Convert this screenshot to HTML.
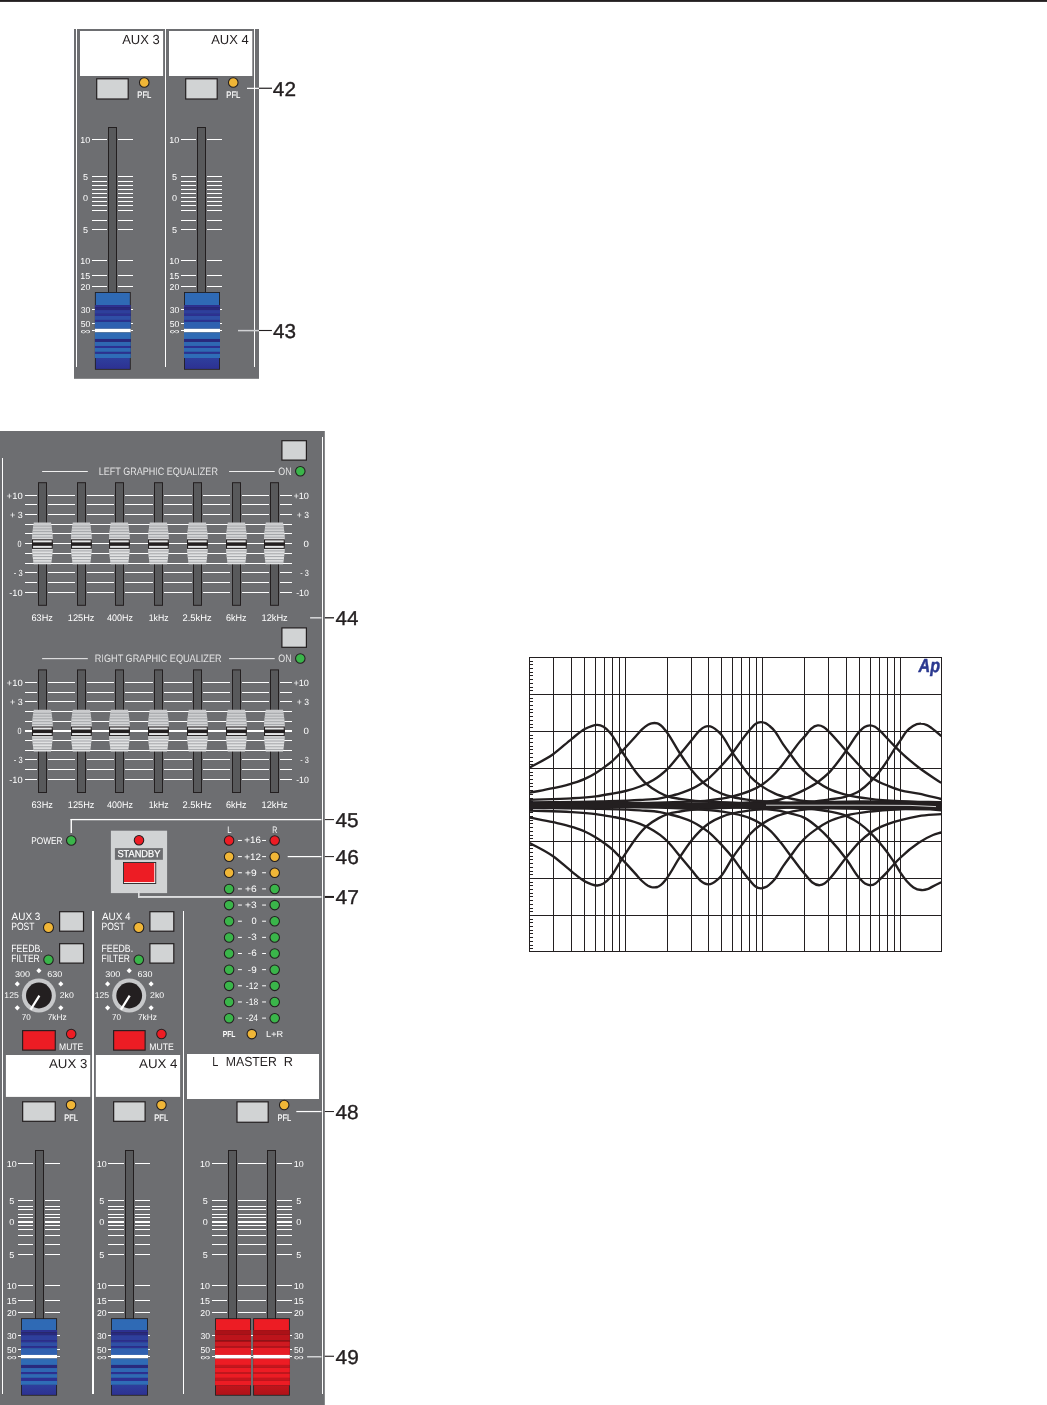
<!DOCTYPE html>
<html lang="en"><head><meta charset="utf-8"><title>Mixer panel</title>
<style>html,body{margin:0;padding:0;background:#fff;overflow:hidden}svg{display:block;will-change:transform}text{white-space:pre;text-rendering:geometricPrecision}</style>
</head><body>
<svg width="1047" height="1405" viewBox="0 0 1047 1405" font-family="'Liberation Sans', sans-serif">
<defs>
<linearGradient id="gblue" x1="0" y1="0" x2="0" y2="1"><stop offset="0" stop-color="#2e3f9d"/><stop offset="1" stop-color="#2d3192"/></linearGradient>
<linearGradient id="gred" x1="0" y1="0" x2="0" y2="1"><stop offset="0" stop-color="#c1151c"/><stop offset="1" stop-color="#b01218"/></linearGradient>
<linearGradient id="geq" x1="0" y1="0" x2="0" y2="1"><stop offset="0" stop-color="#c9cacc"/><stop offset="0.5" stop-color="#dcddde"/><stop offset="1" stop-color="#e4e5e6"/></linearGradient>
</defs>
<rect x="0.00" y="0.00" width="1047.00" height="1405.00" fill="#ffffff" />
<rect x="0.00" y="0.00" width="1047.00" height="1.90" fill="#231f20" />
<rect x="74.00" y="29.00" width="185.00" height="349.80" fill="#6d6e71" />
<rect x="76" y="29.00" width="1" height="337.80" fill="#ffffff" shape-rendering="crispEdges"/>
<rect x="165" y="29.00" width="1" height="337.80" fill="#ffffff" shape-rendering="crispEdges"/>
<rect x="254" y="29.00" width="1" height="337.80" fill="#ffffff" shape-rendering="crispEdges"/>
<rect x="80.00" y="31.00" width="83.10" height="45.00" fill="#ffffff" />
<rect x="169.00" y="31.00" width="83.30" height="45.00" fill="#ffffff" />
<text x="122.14" y="43.90" font-size="13.1" fill="#231f20" textLength="37.55" lengthAdjust="spacingAndGlyphs" >AUX 3</text>
<text x="211.14" y="43.90" font-size="13.1" fill="#231f20" textLength="37.56" lengthAdjust="spacingAndGlyphs" >AUX 4</text>
<rect x="96.70" y="78.80" width="31.50" height="20.20" fill="#d1d3d4" stroke="#231f20" stroke-width="1.2" />
<circle cx="144.25" cy="82.50" r="4.8" fill="#f0b637" stroke="#231f20" stroke-width="1.05"/>
<text x="137.28" y="98.05" font-size="9.5" fill="#ffffff" textLength="14.14" lengthAdjust="spacingAndGlyphs" stroke="#ffffff" stroke-width="0.2" >PFL</text>
<rect x="92.00" y="139" width="15.00" height="1" fill="#ffffff"/>
<rect x="118.00" y="139" width="15.00" height="1" fill="#ffffff"/>
<rect x="92.00" y="176" width="15.00" height="1" fill="#ffffff"/>
<rect x="118.00" y="176" width="15.00" height="1" fill="#ffffff"/>
<rect x="92.00" y="181" width="15.00" height="1" fill="#ffffff"/>
<rect x="118.00" y="181" width="15.00" height="1" fill="#ffffff"/>
<rect x="92.00" y="185" width="15.00" height="1" fill="#ffffff"/>
<rect x="118.00" y="185" width="15.00" height="1" fill="#ffffff"/>
<rect x="92.00" y="189" width="15.00" height="1" fill="#ffffff"/>
<rect x="118.00" y="189" width="15.00" height="1" fill="#ffffff"/>
<rect x="92.00" y="193" width="15.00" height="1" fill="#ffffff"/>
<rect x="118.00" y="193" width="15.00" height="1" fill="#ffffff"/>
<rect x="92.00" y="197" width="15.00" height="1" fill="#ffffff"/>
<rect x="118.00" y="197" width="15.00" height="1" fill="#ffffff"/>
<rect x="92.00" y="201" width="15.00" height="1" fill="#ffffff"/>
<rect x="118.00" y="201" width="15.00" height="1" fill="#ffffff"/>
<rect x="92.00" y="205" width="15.00" height="1" fill="#ffffff"/>
<rect x="118.00" y="205" width="15.00" height="1" fill="#ffffff"/>
<rect x="92.00" y="210" width="15.00" height="1" fill="#ffffff"/>
<rect x="118.00" y="210" width="15.00" height="1" fill="#ffffff"/>
<rect x="92.00" y="220" width="15.00" height="1" fill="#ffffff"/>
<rect x="118.00" y="220" width="15.00" height="1" fill="#ffffff"/>
<rect x="92.00" y="229" width="15.00" height="1" fill="#ffffff"/>
<rect x="118.00" y="229" width="15.00" height="1" fill="#ffffff"/>
<rect x="92.00" y="260" width="15.00" height="1" fill="#ffffff"/>
<rect x="118.00" y="260" width="15.00" height="1" fill="#ffffff"/>
<rect x="92.00" y="275" width="15.00" height="1" fill="#ffffff"/>
<rect x="118.00" y="275" width="15.00" height="1" fill="#ffffff"/>
<rect x="92.00" y="286" width="15.00" height="1" fill="#ffffff"/>
<rect x="118.00" y="286" width="15.00" height="1" fill="#ffffff"/>
<rect x="92.00" y="309" width="3.10" height="1" fill="#ffffff"/>
<rect x="130.55" y="309" width="2.45" height="1" fill="#ffffff"/>
<rect x="92.00" y="323" width="3.10" height="1" fill="#ffffff"/>
<rect x="130.55" y="323" width="2.45" height="1" fill="#ffffff"/>
<rect x="92.00" y="330" width="3.10" height="1" fill="#ffffff"/>
<rect x="130.55" y="330" width="2.45" height="1" fill="#ffffff"/>
<rect x="108.50" y="127.50" width="8.00" height="166.00" fill="#58595b" stroke="#231f20" stroke-width="1.0" />
<rect x="94.90" y="292.00" width="35.85" height="77.75" fill="#231f20"/>
<rect x="95.80" y="292.90" width="34.05" height="12.21" fill="#2f6ab5"/>
<rect x="94.90" y="305.06" width="35.85" height="2.07" fill="#2d3192"/>
<rect x="94.90" y="307.08" width="35.85" height="3.00" fill="#29297d"/>
<rect x="94.90" y="310.04" width="35.85" height="3.86" fill="#2e3f9c"/>
<rect x="94.90" y="313.85" width="35.85" height="2.07" fill="#2d3092"/>
<rect x="94.90" y="315.87" width="35.85" height="4.09" fill="#2f4fa6"/>
<rect x="94.90" y="319.91" width="35.85" height="1.99" fill="#2d3092"/>
<rect x="94.90" y="321.86" width="35.85" height="6.97" fill="#2f60b0"/>
<rect x="94.90" y="328.78" width="35.85" height="3.70" fill="#ffffff"/>
<rect x="94.90" y="332.43" width="35.85" height="6.58" fill="#2f6bb5"/>
<rect x="94.90" y="338.96" width="35.85" height="3.00" fill="#29297d"/>
<rect x="94.90" y="341.92" width="35.85" height="4.09" fill="#2f68b3"/>
<rect x="94.90" y="345.96" width="35.85" height="2.07" fill="#2d3092"/>
<rect x="94.90" y="347.98" width="35.85" height="3.94" fill="#2f6ab5"/>
<rect x="94.90" y="351.87" width="35.85" height="1.99" fill="#2d3092"/>
<rect x="94.90" y="353.81" width="35.85" height="4.25" fill="#2f6db7"/>
<rect x="95.80" y="358.01" width="34.05" height="10.89" fill="url(#gblue)"/>
<text x="80.38" y="142.95" font-size="8.6" fill="#ffffff" textLength="9.95" lengthAdjust="spacingAndGlyphs" >10</text>
<text x="82.99" y="179.95" font-size="8.6" fill="#ffffff" textLength="5.03" lengthAdjust="spacingAndGlyphs" >5</text>
<text x="82.99" y="200.95" font-size="8.6" fill="#ffffff" textLength="5.03" lengthAdjust="spacingAndGlyphs" >0</text>
<text x="82.99" y="232.95" font-size="8.6" fill="#ffffff" textLength="5.03" lengthAdjust="spacingAndGlyphs" >5</text>
<text x="80.38" y="263.95" font-size="8.6" fill="#ffffff" textLength="9.95" lengthAdjust="spacingAndGlyphs" >10</text>
<text x="80.38" y="278.95" font-size="8.6" fill="#ffffff" textLength="9.95" lengthAdjust="spacingAndGlyphs" >15</text>
<text x="80.61" y="289.95" font-size="8.6" fill="#ffffff" textLength="9.71" lengthAdjust="spacingAndGlyphs" >20</text>
<text x="80.70" y="312.95" font-size="8.6" fill="#ffffff" textLength="9.61" lengthAdjust="spacingAndGlyphs" >30</text>
<text x="80.70" y="326.95" font-size="8.6" fill="#ffffff" textLength="9.61" lengthAdjust="spacingAndGlyphs" >50</text>
<text x="80.47" y="333.60" font-size="8.0" fill="#ffffff" textLength="10.04" lengthAdjust="spacingAndGlyphs" >∞</text>
<rect x="185.70" y="78.80" width="31.50" height="20.20" fill="#d1d3d4" stroke="#231f20" stroke-width="1.2" />
<circle cx="233.25" cy="82.50" r="4.8" fill="#f0b637" stroke="#231f20" stroke-width="1.05"/>
<text x="226.28" y="98.05" font-size="9.5" fill="#ffffff" textLength="14.14" lengthAdjust="spacingAndGlyphs" stroke="#ffffff" stroke-width="0.2" >PFL</text>
<rect x="181.00" y="139" width="15.00" height="1" fill="#ffffff"/>
<rect x="207.00" y="139" width="15.00" height="1" fill="#ffffff"/>
<rect x="181.00" y="176" width="15.00" height="1" fill="#ffffff"/>
<rect x="207.00" y="176" width="15.00" height="1" fill="#ffffff"/>
<rect x="181.00" y="181" width="15.00" height="1" fill="#ffffff"/>
<rect x="207.00" y="181" width="15.00" height="1" fill="#ffffff"/>
<rect x="181.00" y="185" width="15.00" height="1" fill="#ffffff"/>
<rect x="207.00" y="185" width="15.00" height="1" fill="#ffffff"/>
<rect x="181.00" y="189" width="15.00" height="1" fill="#ffffff"/>
<rect x="207.00" y="189" width="15.00" height="1" fill="#ffffff"/>
<rect x="181.00" y="193" width="15.00" height="1" fill="#ffffff"/>
<rect x="207.00" y="193" width="15.00" height="1" fill="#ffffff"/>
<rect x="181.00" y="197" width="15.00" height="1" fill="#ffffff"/>
<rect x="207.00" y="197" width="15.00" height="1" fill="#ffffff"/>
<rect x="181.00" y="201" width="15.00" height="1" fill="#ffffff"/>
<rect x="207.00" y="201" width="15.00" height="1" fill="#ffffff"/>
<rect x="181.00" y="205" width="15.00" height="1" fill="#ffffff"/>
<rect x="207.00" y="205" width="15.00" height="1" fill="#ffffff"/>
<rect x="181.00" y="210" width="15.00" height="1" fill="#ffffff"/>
<rect x="207.00" y="210" width="15.00" height="1" fill="#ffffff"/>
<rect x="181.00" y="220" width="15.00" height="1" fill="#ffffff"/>
<rect x="207.00" y="220" width="15.00" height="1" fill="#ffffff"/>
<rect x="181.00" y="229" width="15.00" height="1" fill="#ffffff"/>
<rect x="207.00" y="229" width="15.00" height="1" fill="#ffffff"/>
<rect x="181.00" y="260" width="15.00" height="1" fill="#ffffff"/>
<rect x="207.00" y="260" width="15.00" height="1" fill="#ffffff"/>
<rect x="181.00" y="275" width="15.00" height="1" fill="#ffffff"/>
<rect x="207.00" y="275" width="15.00" height="1" fill="#ffffff"/>
<rect x="181.00" y="286" width="15.00" height="1" fill="#ffffff"/>
<rect x="207.00" y="286" width="15.00" height="1" fill="#ffffff"/>
<rect x="181.00" y="309" width="3.20" height="1" fill="#ffffff"/>
<rect x="219.80" y="309" width="2.20" height="1" fill="#ffffff"/>
<rect x="181.00" y="323" width="3.20" height="1" fill="#ffffff"/>
<rect x="219.80" y="323" width="2.20" height="1" fill="#ffffff"/>
<rect x="181.00" y="330" width="3.20" height="1" fill="#ffffff"/>
<rect x="219.80" y="330" width="2.20" height="1" fill="#ffffff"/>
<rect x="197.50" y="127.50" width="8.00" height="166.00" fill="#58595b" stroke="#231f20" stroke-width="1.0" />
<rect x="184.00" y="292.00" width="36.00" height="77.75" fill="#231f20"/>
<rect x="184.90" y="292.90" width="34.20" height="12.21" fill="#2f6ab5"/>
<rect x="184.00" y="305.06" width="36.00" height="2.07" fill="#2d3192"/>
<rect x="184.00" y="307.08" width="36.00" height="3.00" fill="#29297d"/>
<rect x="184.00" y="310.04" width="36.00" height="3.86" fill="#2e3f9c"/>
<rect x="184.00" y="313.85" width="36.00" height="2.07" fill="#2d3092"/>
<rect x="184.00" y="315.87" width="36.00" height="4.09" fill="#2f4fa6"/>
<rect x="184.00" y="319.91" width="36.00" height="1.99" fill="#2d3092"/>
<rect x="184.00" y="321.86" width="36.00" height="6.97" fill="#2f60b0"/>
<rect x="184.00" y="328.78" width="36.00" height="3.70" fill="#ffffff"/>
<rect x="184.00" y="332.43" width="36.00" height="6.58" fill="#2f6bb5"/>
<rect x="184.00" y="338.96" width="36.00" height="3.00" fill="#29297d"/>
<rect x="184.00" y="341.92" width="36.00" height="4.09" fill="#2f68b3"/>
<rect x="184.00" y="345.96" width="36.00" height="2.07" fill="#2d3092"/>
<rect x="184.00" y="347.98" width="36.00" height="3.94" fill="#2f6ab5"/>
<rect x="184.00" y="351.87" width="36.00" height="1.99" fill="#2d3092"/>
<rect x="184.00" y="353.81" width="36.00" height="4.25" fill="#2f6db7"/>
<rect x="184.90" y="358.01" width="34.20" height="10.89" fill="url(#gblue)"/>
<text x="169.38" y="142.95" font-size="8.6" fill="#ffffff" textLength="9.95" lengthAdjust="spacingAndGlyphs" >10</text>
<text x="171.99" y="179.95" font-size="8.6" fill="#ffffff" textLength="5.03" lengthAdjust="spacingAndGlyphs" >5</text>
<text x="171.99" y="200.95" font-size="8.6" fill="#ffffff" textLength="5.03" lengthAdjust="spacingAndGlyphs" >0</text>
<text x="171.99" y="232.95" font-size="8.6" fill="#ffffff" textLength="5.03" lengthAdjust="spacingAndGlyphs" >5</text>
<text x="169.38" y="263.95" font-size="8.6" fill="#ffffff" textLength="9.95" lengthAdjust="spacingAndGlyphs" >10</text>
<text x="169.38" y="278.95" font-size="8.6" fill="#ffffff" textLength="9.95" lengthAdjust="spacingAndGlyphs" >15</text>
<text x="169.61" y="289.95" font-size="8.6" fill="#ffffff" textLength="9.71" lengthAdjust="spacingAndGlyphs" >20</text>
<text x="169.70" y="312.95" font-size="8.6" fill="#ffffff" textLength="9.61" lengthAdjust="spacingAndGlyphs" >30</text>
<text x="169.70" y="326.95" font-size="8.6" fill="#ffffff" textLength="9.61" lengthAdjust="spacingAndGlyphs" >50</text>
<text x="169.47" y="333.60" font-size="8.0" fill="#ffffff" textLength="10.04" lengthAdjust="spacingAndGlyphs" >∞</text>
<rect x="247.00" y="87.75" width="12.00" height="1.20" fill="#ffffff"/>
<rect x="259.00" y="87.65" width="13.00" height="1.20" fill="#231f20"/>
<text x="272.88" y="96.05" font-size="20.0" fill="#231f20" textLength="23.11" lengthAdjust="spacingAndGlyphs" stroke="#231f20" stroke-width="0.35" >42</text>
<rect x="238.00" y="329.85" width="21.00" height="1.50" fill="#d1d2d4"/>
<rect x="259.00" y="329.95" width="12.90" height="1.10" fill="#231f20"/>
<text x="272.98" y="337.90" font-size="20.0" fill="#231f20" textLength="23.00" lengthAdjust="spacingAndGlyphs" stroke="#231f20" stroke-width="0.35" >43</text>
<rect x="0.00" y="431.00" width="324.80" height="974.00" fill="#6d6e71" />
<rect x="2" y="457.70" width="1" height="936.10" fill="#ffffff" shape-rendering="crispEdges"/>
<rect x="322" y="437.00" width="1" height="956.80" fill="#ffffff" shape-rendering="crispEdges"/>
<rect x="281.90" y="440.70" width="24.50" height="19.40" fill="#d1d3d4" stroke="#231f20" stroke-width="1.2" />
<rect x="42.10" y="471.05" width="45.70" height="0.90" fill="#ffffff"/>
<rect x="229.10" y="471.05" width="45.60" height="0.90" fill="#ffffff"/>
<text x="98.78" y="475.00" font-size="10.8" fill="#ffffff" textLength="119.14" lengthAdjust="spacingAndGlyphs" stroke="#6d6e71" stroke-width="0.18" >LEFT GRAPHIC EQUALIZER</text>
<text x="278.30" y="475.00" font-size="10.8" fill="#ffffff" textLength="13.31" lengthAdjust="spacingAndGlyphs" stroke="#6d6e71" stroke-width="0.18" >ON</text>
<circle cx="300.30" cy="471.30" r="4.75" fill="#3ab54a" stroke="#231f20" stroke-width="1.05"/>
<rect x="25.00" y="495" width="12.00" height="1" fill="#ffffff"/>
<rect x="48.00" y="495" width="27.00" height="1" fill="#ffffff"/>
<rect x="87.00" y="495" width="27.00" height="1" fill="#ffffff"/>
<rect x="125.00" y="495" width="28.00" height="1" fill="#ffffff"/>
<rect x="164.00" y="495" width="28.00" height="1" fill="#ffffff"/>
<rect x="203.00" y="495" width="27.00" height="1" fill="#ffffff"/>
<rect x="242.00" y="495" width="27.00" height="1" fill="#ffffff"/>
<rect x="280.00" y="495" width="12.00" height="1" fill="#ffffff"/>
<rect x="25.00" y="504" width="12.00" height="1" fill="#ffffff"/>
<rect x="48.00" y="504" width="27.00" height="1" fill="#ffffff"/>
<rect x="87.00" y="504" width="27.00" height="1" fill="#ffffff"/>
<rect x="125.00" y="504" width="28.00" height="1" fill="#ffffff"/>
<rect x="164.00" y="504" width="28.00" height="1" fill="#ffffff"/>
<rect x="203.00" y="504" width="27.00" height="1" fill="#ffffff"/>
<rect x="242.00" y="504" width="27.00" height="1" fill="#ffffff"/>
<rect x="280.00" y="504" width="12.00" height="1" fill="#ffffff"/>
<rect x="25.00" y="514" width="12.00" height="1" fill="#ffffff"/>
<rect x="48.00" y="514" width="27.00" height="1" fill="#ffffff"/>
<rect x="87.00" y="514" width="27.00" height="1" fill="#ffffff"/>
<rect x="125.00" y="514" width="28.00" height="1" fill="#ffffff"/>
<rect x="164.00" y="514" width="28.00" height="1" fill="#ffffff"/>
<rect x="203.00" y="514" width="27.00" height="1" fill="#ffffff"/>
<rect x="242.00" y="514" width="27.00" height="1" fill="#ffffff"/>
<rect x="280.00" y="514" width="12.00" height="1" fill="#ffffff"/>
<rect x="25.00" y="524" width="12.00" height="1" fill="#ffffff"/>
<rect x="48.00" y="524" width="27.00" height="1" fill="#ffffff"/>
<rect x="87.00" y="524" width="27.00" height="1" fill="#ffffff"/>
<rect x="125.00" y="524" width="28.00" height="1" fill="#ffffff"/>
<rect x="164.00" y="524" width="28.00" height="1" fill="#ffffff"/>
<rect x="203.00" y="524" width="27.00" height="1" fill="#ffffff"/>
<rect x="242.00" y="524" width="27.00" height="1" fill="#ffffff"/>
<rect x="280.00" y="524" width="12.00" height="1" fill="#ffffff"/>
<rect x="25.00" y="533" width="12.00" height="1" fill="#ffffff"/>
<rect x="48.00" y="533" width="27.00" height="1" fill="#ffffff"/>
<rect x="87.00" y="533" width="27.00" height="1" fill="#ffffff"/>
<rect x="125.00" y="533" width="28.00" height="1" fill="#ffffff"/>
<rect x="164.00" y="533" width="28.00" height="1" fill="#ffffff"/>
<rect x="203.00" y="533" width="27.00" height="1" fill="#ffffff"/>
<rect x="242.00" y="533" width="27.00" height="1" fill="#ffffff"/>
<rect x="280.00" y="533" width="12.00" height="1" fill="#ffffff"/>
<rect x="25.00" y="543" width="12.00" height="1" fill="#ffffff"/>
<rect x="48.00" y="543" width="27.00" height="1" fill="#ffffff"/>
<rect x="87.00" y="543" width="27.00" height="1" fill="#ffffff"/>
<rect x="125.00" y="543" width="28.00" height="1" fill="#ffffff"/>
<rect x="164.00" y="543" width="28.00" height="1" fill="#ffffff"/>
<rect x="203.00" y="543" width="27.00" height="1" fill="#ffffff"/>
<rect x="242.00" y="543" width="27.00" height="1" fill="#ffffff"/>
<rect x="280.00" y="543" width="12.00" height="1" fill="#ffffff"/>
<rect x="25.00" y="553" width="12.00" height="1" fill="#ffffff"/>
<rect x="48.00" y="553" width="27.00" height="1" fill="#ffffff"/>
<rect x="87.00" y="553" width="27.00" height="1" fill="#ffffff"/>
<rect x="125.00" y="553" width="28.00" height="1" fill="#ffffff"/>
<rect x="164.00" y="553" width="28.00" height="1" fill="#ffffff"/>
<rect x="203.00" y="553" width="27.00" height="1" fill="#ffffff"/>
<rect x="242.00" y="553" width="27.00" height="1" fill="#ffffff"/>
<rect x="280.00" y="553" width="12.00" height="1" fill="#ffffff"/>
<rect x="25.00" y="563" width="12.00" height="1" fill="#ffffff"/>
<rect x="48.00" y="563" width="27.00" height="1" fill="#ffffff"/>
<rect x="87.00" y="563" width="27.00" height="1" fill="#ffffff"/>
<rect x="125.00" y="563" width="28.00" height="1" fill="#ffffff"/>
<rect x="164.00" y="563" width="28.00" height="1" fill="#ffffff"/>
<rect x="203.00" y="563" width="27.00" height="1" fill="#ffffff"/>
<rect x="242.00" y="563" width="27.00" height="1" fill="#ffffff"/>
<rect x="280.00" y="563" width="12.00" height="1" fill="#ffffff"/>
<rect x="25.00" y="572" width="12.00" height="1" fill="#ffffff"/>
<rect x="48.00" y="572" width="27.00" height="1" fill="#ffffff"/>
<rect x="87.00" y="572" width="27.00" height="1" fill="#ffffff"/>
<rect x="125.00" y="572" width="28.00" height="1" fill="#ffffff"/>
<rect x="164.00" y="572" width="28.00" height="1" fill="#ffffff"/>
<rect x="203.00" y="572" width="27.00" height="1" fill="#ffffff"/>
<rect x="242.00" y="572" width="27.00" height="1" fill="#ffffff"/>
<rect x="280.00" y="572" width="12.00" height="1" fill="#ffffff"/>
<rect x="25.00" y="582" width="12.00" height="1" fill="#ffffff"/>
<rect x="48.00" y="582" width="27.00" height="1" fill="#ffffff"/>
<rect x="87.00" y="582" width="27.00" height="1" fill="#ffffff"/>
<rect x="125.00" y="582" width="28.00" height="1" fill="#ffffff"/>
<rect x="164.00" y="582" width="28.00" height="1" fill="#ffffff"/>
<rect x="203.00" y="582" width="27.00" height="1" fill="#ffffff"/>
<rect x="242.00" y="582" width="27.00" height="1" fill="#ffffff"/>
<rect x="280.00" y="582" width="12.00" height="1" fill="#ffffff"/>
<rect x="25.00" y="592" width="12.00" height="1" fill="#ffffff"/>
<rect x="48.00" y="592" width="27.00" height="1" fill="#ffffff"/>
<rect x="87.00" y="592" width="27.00" height="1" fill="#ffffff"/>
<rect x="125.00" y="592" width="28.00" height="1" fill="#ffffff"/>
<rect x="164.00" y="592" width="28.00" height="1" fill="#ffffff"/>
<rect x="203.00" y="592" width="27.00" height="1" fill="#ffffff"/>
<rect x="242.00" y="592" width="27.00" height="1" fill="#ffffff"/>
<rect x="280.00" y="592" width="12.00" height="1" fill="#ffffff"/>
<rect x="38.50" y="482.70" width="8.00" height="122.60" fill="#58595b" stroke="#231f20" stroke-width="1.0" />
<clipPath id="c424_522"><path d="M33.80,522.60 L51.00,522.60 Q53.10,534.60 52.80,543.40 Q53.10,552.20 51.00,564.20 L33.80,564.20 Q31.70,552.20 32.00,543.40 Q31.70,534.60 33.80,522.60 Z"/></clipPath>
<path d="M33.80,522.60 L51.00,522.60 Q53.10,534.60 52.80,543.40 Q53.10,552.20 51.00,564.20 L33.80,564.20 Q31.70,552.20 32.00,543.40 Q31.70,534.60 33.80,522.60 Z" fill="url(#geq)"/>
<g clip-path="url(#c424_522)">
<rect x="30.4" y="525.60" width="24" height="1.0" fill="#a4a6a9"/>
<rect x="30.4" y="528.40" width="24" height="1.0" fill="#a4a6a9"/>
<rect x="30.4" y="531.10" width="24" height="1.0" fill="#a4a6a9"/>
<rect x="30.4" y="534.00" width="24" height="1.0" fill="#a4a6a9"/>
<rect x="30.4" y="536.70" width="24" height="1.0" fill="#a4a6a9"/>
<rect x="30.4" y="550.40" width="24" height="1.0" fill="#a4a6a9"/>
<rect x="30.4" y="553.30" width="24" height="1.0" fill="#a4a6a9"/>
<rect x="30.4" y="556.10" width="24" height="1.0" fill="#a4a6a9"/>
<rect x="30.4" y="559.10" width="24" height="1.0" fill="#a4a6a9"/>
<rect x="30.4" y="561.70" width="24" height="1.0" fill="#a4a6a9"/>
</g>
<rect x="32.52" y="539.83" width="19.75" height="8.55" fill="#e6e7e8" stroke="#231f20" stroke-width="1.05" />
<rect x="32.00" y="542.35" width="20.80" height="3.50" fill="#231f20" />
<rect x="77.50" y="482.70" width="8.00" height="122.60" fill="#58595b" stroke="#231f20" stroke-width="1.0" />
<clipPath id="c814_522"><path d="M72.80,522.60 L90.00,522.60 Q92.10,534.60 91.80,543.40 Q92.10,552.20 90.00,564.20 L72.80,564.20 Q70.70,552.20 71.00,543.40 Q70.70,534.60 72.80,522.60 Z"/></clipPath>
<path d="M72.80,522.60 L90.00,522.60 Q92.10,534.60 91.80,543.40 Q92.10,552.20 90.00,564.20 L72.80,564.20 Q70.70,552.20 71.00,543.40 Q70.70,534.60 72.80,522.60 Z" fill="url(#geq)"/>
<g clip-path="url(#c814_522)">
<rect x="69.4" y="525.60" width="24" height="1.0" fill="#a4a6a9"/>
<rect x="69.4" y="528.40" width="24" height="1.0" fill="#a4a6a9"/>
<rect x="69.4" y="531.10" width="24" height="1.0" fill="#a4a6a9"/>
<rect x="69.4" y="534.00" width="24" height="1.0" fill="#a4a6a9"/>
<rect x="69.4" y="536.70" width="24" height="1.0" fill="#a4a6a9"/>
<rect x="69.4" y="550.40" width="24" height="1.0" fill="#a4a6a9"/>
<rect x="69.4" y="553.30" width="24" height="1.0" fill="#a4a6a9"/>
<rect x="69.4" y="556.10" width="24" height="1.0" fill="#a4a6a9"/>
<rect x="69.4" y="559.10" width="24" height="1.0" fill="#a4a6a9"/>
<rect x="69.4" y="561.70" width="24" height="1.0" fill="#a4a6a9"/>
</g>
<rect x="71.53" y="539.83" width="19.75" height="8.55" fill="#e6e7e8" stroke="#231f20" stroke-width="1.05" />
<rect x="71.00" y="542.35" width="20.80" height="3.50" fill="#231f20" />
<rect x="115.50" y="482.70" width="8.00" height="122.60" fill="#58595b" stroke="#231f20" stroke-width="1.0" />
<clipPath id="c1194_522"><path d="M110.80,522.60 L128.00,522.60 Q130.10,534.60 129.80,543.40 Q130.10,552.20 128.00,564.20 L110.80,564.20 Q108.70,552.20 109.00,543.40 Q108.70,534.60 110.80,522.60 Z"/></clipPath>
<path d="M110.80,522.60 L128.00,522.60 Q130.10,534.60 129.80,543.40 Q130.10,552.20 128.00,564.20 L110.80,564.20 Q108.70,552.20 109.00,543.40 Q108.70,534.60 110.80,522.60 Z" fill="url(#geq)"/>
<g clip-path="url(#c1194_522)">
<rect x="107.4" y="525.60" width="24" height="1.0" fill="#a4a6a9"/>
<rect x="107.4" y="528.40" width="24" height="1.0" fill="#a4a6a9"/>
<rect x="107.4" y="531.10" width="24" height="1.0" fill="#a4a6a9"/>
<rect x="107.4" y="534.00" width="24" height="1.0" fill="#a4a6a9"/>
<rect x="107.4" y="536.70" width="24" height="1.0" fill="#a4a6a9"/>
<rect x="107.4" y="550.40" width="24" height="1.0" fill="#a4a6a9"/>
<rect x="107.4" y="553.30" width="24" height="1.0" fill="#a4a6a9"/>
<rect x="107.4" y="556.10" width="24" height="1.0" fill="#a4a6a9"/>
<rect x="107.4" y="559.10" width="24" height="1.0" fill="#a4a6a9"/>
<rect x="107.4" y="561.70" width="24" height="1.0" fill="#a4a6a9"/>
</g>
<rect x="109.53" y="539.83" width="19.75" height="8.55" fill="#e6e7e8" stroke="#231f20" stroke-width="1.05" />
<rect x="109.00" y="542.35" width="20.80" height="3.50" fill="#231f20" />
<rect x="154.50" y="482.70" width="8.00" height="122.60" fill="#58595b" stroke="#231f20" stroke-width="1.0" />
<clipPath id="c1584_522"><path d="M149.80,522.60 L167.00,522.60 Q169.10,534.60 168.80,543.40 Q169.10,552.20 167.00,564.20 L149.80,564.20 Q147.70,552.20 148.00,543.40 Q147.70,534.60 149.80,522.60 Z"/></clipPath>
<path d="M149.80,522.60 L167.00,522.60 Q169.10,534.60 168.80,543.40 Q169.10,552.20 167.00,564.20 L149.80,564.20 Q147.70,552.20 148.00,543.40 Q147.70,534.60 149.80,522.60 Z" fill="url(#geq)"/>
<g clip-path="url(#c1584_522)">
<rect x="146.4" y="525.60" width="24" height="1.0" fill="#a4a6a9"/>
<rect x="146.4" y="528.40" width="24" height="1.0" fill="#a4a6a9"/>
<rect x="146.4" y="531.10" width="24" height="1.0" fill="#a4a6a9"/>
<rect x="146.4" y="534.00" width="24" height="1.0" fill="#a4a6a9"/>
<rect x="146.4" y="536.70" width="24" height="1.0" fill="#a4a6a9"/>
<rect x="146.4" y="550.40" width="24" height="1.0" fill="#a4a6a9"/>
<rect x="146.4" y="553.30" width="24" height="1.0" fill="#a4a6a9"/>
<rect x="146.4" y="556.10" width="24" height="1.0" fill="#a4a6a9"/>
<rect x="146.4" y="559.10" width="24" height="1.0" fill="#a4a6a9"/>
<rect x="146.4" y="561.70" width="24" height="1.0" fill="#a4a6a9"/>
</g>
<rect x="148.53" y="539.83" width="19.75" height="8.55" fill="#e6e7e8" stroke="#231f20" stroke-width="1.05" />
<rect x="148.00" y="542.35" width="20.80" height="3.50" fill="#231f20" />
<rect x="193.50" y="482.70" width="8.00" height="122.60" fill="#58595b" stroke="#231f20" stroke-width="1.0" />
<clipPath id="c1974_522"><path d="M188.80,522.60 L206.00,522.60 Q208.10,534.60 207.80,543.40 Q208.10,552.20 206.00,564.20 L188.80,564.20 Q186.70,552.20 187.00,543.40 Q186.70,534.60 188.80,522.60 Z"/></clipPath>
<path d="M188.80,522.60 L206.00,522.60 Q208.10,534.60 207.80,543.40 Q208.10,552.20 206.00,564.20 L188.80,564.20 Q186.70,552.20 187.00,543.40 Q186.70,534.60 188.80,522.60 Z" fill="url(#geq)"/>
<g clip-path="url(#c1974_522)">
<rect x="185.4" y="525.60" width="24" height="1.0" fill="#a4a6a9"/>
<rect x="185.4" y="528.40" width="24" height="1.0" fill="#a4a6a9"/>
<rect x="185.4" y="531.10" width="24" height="1.0" fill="#a4a6a9"/>
<rect x="185.4" y="534.00" width="24" height="1.0" fill="#a4a6a9"/>
<rect x="185.4" y="536.70" width="24" height="1.0" fill="#a4a6a9"/>
<rect x="185.4" y="550.40" width="24" height="1.0" fill="#a4a6a9"/>
<rect x="185.4" y="553.30" width="24" height="1.0" fill="#a4a6a9"/>
<rect x="185.4" y="556.10" width="24" height="1.0" fill="#a4a6a9"/>
<rect x="185.4" y="559.10" width="24" height="1.0" fill="#a4a6a9"/>
<rect x="185.4" y="561.70" width="24" height="1.0" fill="#a4a6a9"/>
</g>
<rect x="187.53" y="539.83" width="19.75" height="8.55" fill="#e6e7e8" stroke="#231f20" stroke-width="1.05" />
<rect x="187.00" y="542.35" width="20.80" height="3.50" fill="#231f20" />
<rect x="232.50" y="482.70" width="8.00" height="122.60" fill="#58595b" stroke="#231f20" stroke-width="1.0" />
<clipPath id="c2364_522"><path d="M227.80,522.60 L245.00,522.60 Q247.10,534.60 246.80,543.40 Q247.10,552.20 245.00,564.20 L227.80,564.20 Q225.70,552.20 226.00,543.40 Q225.70,534.60 227.80,522.60 Z"/></clipPath>
<path d="M227.80,522.60 L245.00,522.60 Q247.10,534.60 246.80,543.40 Q247.10,552.20 245.00,564.20 L227.80,564.20 Q225.70,552.20 226.00,543.40 Q225.70,534.60 227.80,522.60 Z" fill="url(#geq)"/>
<g clip-path="url(#c2364_522)">
<rect x="224.4" y="525.60" width="24" height="1.0" fill="#a4a6a9"/>
<rect x="224.4" y="528.40" width="24" height="1.0" fill="#a4a6a9"/>
<rect x="224.4" y="531.10" width="24" height="1.0" fill="#a4a6a9"/>
<rect x="224.4" y="534.00" width="24" height="1.0" fill="#a4a6a9"/>
<rect x="224.4" y="536.70" width="24" height="1.0" fill="#a4a6a9"/>
<rect x="224.4" y="550.40" width="24" height="1.0" fill="#a4a6a9"/>
<rect x="224.4" y="553.30" width="24" height="1.0" fill="#a4a6a9"/>
<rect x="224.4" y="556.10" width="24" height="1.0" fill="#a4a6a9"/>
<rect x="224.4" y="559.10" width="24" height="1.0" fill="#a4a6a9"/>
<rect x="224.4" y="561.70" width="24" height="1.0" fill="#a4a6a9"/>
</g>
<rect x="226.53" y="539.83" width="19.75" height="8.55" fill="#e6e7e8" stroke="#231f20" stroke-width="1.05" />
<rect x="226.00" y="542.35" width="20.80" height="3.50" fill="#231f20" />
<rect x="270.50" y="482.70" width="8.00" height="122.60" fill="#58595b" stroke="#231f20" stroke-width="1.0" />
<clipPath id="c2744_522"><path d="M265.80,522.60 L283.00,522.60 Q285.10,534.60 284.80,543.40 Q285.10,552.20 283.00,564.20 L265.80,564.20 Q263.70,552.20 264.00,543.40 Q263.70,534.60 265.80,522.60 Z"/></clipPath>
<path d="M265.80,522.60 L283.00,522.60 Q285.10,534.60 284.80,543.40 Q285.10,552.20 283.00,564.20 L265.80,564.20 Q263.70,552.20 264.00,543.40 Q263.70,534.60 265.80,522.60 Z" fill="url(#geq)"/>
<g clip-path="url(#c2744_522)">
<rect x="262.4" y="525.60" width="24" height="1.0" fill="#a4a6a9"/>
<rect x="262.4" y="528.40" width="24" height="1.0" fill="#a4a6a9"/>
<rect x="262.4" y="531.10" width="24" height="1.0" fill="#a4a6a9"/>
<rect x="262.4" y="534.00" width="24" height="1.0" fill="#a4a6a9"/>
<rect x="262.4" y="536.70" width="24" height="1.0" fill="#a4a6a9"/>
<rect x="262.4" y="550.40" width="24" height="1.0" fill="#a4a6a9"/>
<rect x="262.4" y="553.30" width="24" height="1.0" fill="#a4a6a9"/>
<rect x="262.4" y="556.10" width="24" height="1.0" fill="#a4a6a9"/>
<rect x="262.4" y="559.10" width="24" height="1.0" fill="#a4a6a9"/>
<rect x="262.4" y="561.70" width="24" height="1.0" fill="#a4a6a9"/>
</g>
<rect x="264.52" y="539.83" width="19.75" height="8.55" fill="#e6e7e8" stroke="#231f20" stroke-width="1.05" />
<rect x="264.00" y="542.35" width="20.80" height="3.50" fill="#231f20" />
<text x="6.63" y="498.80" font-size="9.0" fill="#ffffff" textLength="16.06" lengthAdjust="spacingAndGlyphs" >+10</text>
<text x="293.44" y="498.80" font-size="9.0" fill="#ffffff" textLength="15.54" lengthAdjust="spacingAndGlyphs" >+10</text>
<text x="10.05" y="517.80" font-size="9.0" fill="#ffffff" textLength="12.68" lengthAdjust="spacingAndGlyphs" >+ 3</text>
<text x="296.87" y="517.80" font-size="9.0" fill="#ffffff" textLength="12.14" lengthAdjust="spacingAndGlyphs" >+ 3</text>
<text x="17.51" y="546.80" font-size="9.0" fill="#ffffff" textLength="3.98" lengthAdjust="spacingAndGlyphs" >0</text>
<text x="303.61" y="546.80" font-size="9.0" fill="#ffffff" textLength="5.39" lengthAdjust="spacingAndGlyphs" >0</text>
<text x="13.86" y="575.80" font-size="9.0" fill="#ffffff" textLength="8.79" lengthAdjust="spacingAndGlyphs" >- 3</text>
<text x="300.37" y="575.80" font-size="9.0" fill="#ffffff" textLength="8.58" lengthAdjust="spacingAndGlyphs" >- 3</text>
<text x="9.28" y="595.80" font-size="9.0" fill="#ffffff" textLength="13.39" lengthAdjust="spacingAndGlyphs" >-10</text>
<text x="296.20" y="595.80" font-size="9.0" fill="#ffffff" textLength="12.75" lengthAdjust="spacingAndGlyphs" >-10</text>
<text x="31.44" y="620.90" font-size="9.5" fill="#ffffff" textLength="21.41" lengthAdjust="spacingAndGlyphs" >63Hz</text>
<text x="67.81" y="620.90" font-size="9.5" fill="#ffffff" textLength="26.66" lengthAdjust="spacingAndGlyphs" >125Hz</text>
<text x="107.08" y="620.90" font-size="9.5" fill="#ffffff" textLength="25.78" lengthAdjust="spacingAndGlyphs" >400Hz</text>
<text x="148.75" y="620.90" font-size="9.5" fill="#ffffff" textLength="19.77" lengthAdjust="spacingAndGlyphs" >1kHz</text>
<text x="182.53" y="620.90" font-size="9.5" fill="#ffffff" textLength="29.06" lengthAdjust="spacingAndGlyphs" >2.5kHz</text>
<text x="226.05" y="620.90" font-size="9.5" fill="#ffffff" textLength="20.59" lengthAdjust="spacingAndGlyphs" >6kHz</text>
<text x="261.51" y="620.90" font-size="9.5" fill="#ffffff" textLength="26.25" lengthAdjust="spacingAndGlyphs" >12kHz</text>
<rect x="281.90" y="627.90" width="24.50" height="19.40" fill="#d1d3d4" stroke="#231f20" stroke-width="1.2" />
<rect x="42.10" y="658.25" width="45.70" height="0.90" fill="#ffffff"/>
<rect x="229.10" y="658.25" width="45.60" height="0.90" fill="#ffffff"/>
<text x="94.77" y="662.20" font-size="10.8" fill="#ffffff" textLength="126.87" lengthAdjust="spacingAndGlyphs" stroke="#6d6e71" stroke-width="0.18" >RIGHT GRAPHIC EQUALIZER</text>
<text x="278.30" y="662.20" font-size="10.8" fill="#ffffff" textLength="13.31" lengthAdjust="spacingAndGlyphs" stroke="#6d6e71" stroke-width="0.18" >ON</text>
<circle cx="300.30" cy="658.50" r="4.75" fill="#3ab54a" stroke="#231f20" stroke-width="1.05"/>
<rect x="25.00" y="682" width="12.00" height="1" fill="#ffffff"/>
<rect x="48.00" y="682" width="27.00" height="1" fill="#ffffff"/>
<rect x="87.00" y="682" width="27.00" height="1" fill="#ffffff"/>
<rect x="125.00" y="682" width="28.00" height="1" fill="#ffffff"/>
<rect x="164.00" y="682" width="28.00" height="1" fill="#ffffff"/>
<rect x="203.00" y="682" width="27.00" height="1" fill="#ffffff"/>
<rect x="242.00" y="682" width="27.00" height="1" fill="#ffffff"/>
<rect x="280.00" y="682" width="12.00" height="1" fill="#ffffff"/>
<rect x="25.00" y="692" width="12.00" height="1" fill="#ffffff"/>
<rect x="48.00" y="692" width="27.00" height="1" fill="#ffffff"/>
<rect x="87.00" y="692" width="27.00" height="1" fill="#ffffff"/>
<rect x="125.00" y="692" width="28.00" height="1" fill="#ffffff"/>
<rect x="164.00" y="692" width="28.00" height="1" fill="#ffffff"/>
<rect x="203.00" y="692" width="27.00" height="1" fill="#ffffff"/>
<rect x="242.00" y="692" width="27.00" height="1" fill="#ffffff"/>
<rect x="280.00" y="692" width="12.00" height="1" fill="#ffffff"/>
<rect x="25.00" y="701" width="12.00" height="1" fill="#ffffff"/>
<rect x="48.00" y="701" width="27.00" height="1" fill="#ffffff"/>
<rect x="87.00" y="701" width="27.00" height="1" fill="#ffffff"/>
<rect x="125.00" y="701" width="28.00" height="1" fill="#ffffff"/>
<rect x="164.00" y="701" width="28.00" height="1" fill="#ffffff"/>
<rect x="203.00" y="701" width="27.00" height="1" fill="#ffffff"/>
<rect x="242.00" y="701" width="27.00" height="1" fill="#ffffff"/>
<rect x="280.00" y="701" width="12.00" height="1" fill="#ffffff"/>
<rect x="25.00" y="711" width="12.00" height="1" fill="#ffffff"/>
<rect x="48.00" y="711" width="27.00" height="1" fill="#ffffff"/>
<rect x="87.00" y="711" width="27.00" height="1" fill="#ffffff"/>
<rect x="125.00" y="711" width="28.00" height="1" fill="#ffffff"/>
<rect x="164.00" y="711" width="28.00" height="1" fill="#ffffff"/>
<rect x="203.00" y="711" width="27.00" height="1" fill="#ffffff"/>
<rect x="242.00" y="711" width="27.00" height="1" fill="#ffffff"/>
<rect x="280.00" y="711" width="12.00" height="1" fill="#ffffff"/>
<rect x="25.00" y="721" width="12.00" height="1" fill="#ffffff"/>
<rect x="48.00" y="721" width="27.00" height="1" fill="#ffffff"/>
<rect x="87.00" y="721" width="27.00" height="1" fill="#ffffff"/>
<rect x="125.00" y="721" width="28.00" height="1" fill="#ffffff"/>
<rect x="164.00" y="721" width="28.00" height="1" fill="#ffffff"/>
<rect x="203.00" y="721" width="27.00" height="1" fill="#ffffff"/>
<rect x="242.00" y="721" width="27.00" height="1" fill="#ffffff"/>
<rect x="280.00" y="721" width="12.00" height="1" fill="#ffffff"/>
<rect x="25.00" y="730" width="12.00" height="2" fill="#ffffff"/>
<rect x="48.00" y="730" width="27.00" height="2" fill="#ffffff"/>
<rect x="87.00" y="730" width="27.00" height="2" fill="#ffffff"/>
<rect x="125.00" y="730" width="28.00" height="2" fill="#ffffff"/>
<rect x="164.00" y="730" width="28.00" height="2" fill="#ffffff"/>
<rect x="203.00" y="730" width="27.00" height="2" fill="#ffffff"/>
<rect x="242.00" y="730" width="27.00" height="2" fill="#ffffff"/>
<rect x="280.00" y="730" width="12.00" height="2" fill="#ffffff"/>
<rect x="25.00" y="740" width="12.00" height="1" fill="#ffffff"/>
<rect x="48.00" y="740" width="27.00" height="1" fill="#ffffff"/>
<rect x="87.00" y="740" width="27.00" height="1" fill="#ffffff"/>
<rect x="125.00" y="740" width="28.00" height="1" fill="#ffffff"/>
<rect x="164.00" y="740" width="28.00" height="1" fill="#ffffff"/>
<rect x="203.00" y="740" width="27.00" height="1" fill="#ffffff"/>
<rect x="242.00" y="740" width="27.00" height="1" fill="#ffffff"/>
<rect x="280.00" y="740" width="12.00" height="1" fill="#ffffff"/>
<rect x="25.00" y="750" width="12.00" height="1" fill="#ffffff"/>
<rect x="48.00" y="750" width="27.00" height="1" fill="#ffffff"/>
<rect x="87.00" y="750" width="27.00" height="1" fill="#ffffff"/>
<rect x="125.00" y="750" width="28.00" height="1" fill="#ffffff"/>
<rect x="164.00" y="750" width="28.00" height="1" fill="#ffffff"/>
<rect x="203.00" y="750" width="27.00" height="1" fill="#ffffff"/>
<rect x="242.00" y="750" width="27.00" height="1" fill="#ffffff"/>
<rect x="280.00" y="750" width="12.00" height="1" fill="#ffffff"/>
<rect x="25.00" y="759" width="12.00" height="1" fill="#ffffff"/>
<rect x="48.00" y="759" width="27.00" height="1" fill="#ffffff"/>
<rect x="87.00" y="759" width="27.00" height="1" fill="#ffffff"/>
<rect x="125.00" y="759" width="28.00" height="1" fill="#ffffff"/>
<rect x="164.00" y="759" width="28.00" height="1" fill="#ffffff"/>
<rect x="203.00" y="759" width="27.00" height="1" fill="#ffffff"/>
<rect x="242.00" y="759" width="27.00" height="1" fill="#ffffff"/>
<rect x="280.00" y="759" width="12.00" height="1" fill="#ffffff"/>
<rect x="25.00" y="769" width="12.00" height="1" fill="#ffffff"/>
<rect x="48.00" y="769" width="27.00" height="1" fill="#ffffff"/>
<rect x="87.00" y="769" width="27.00" height="1" fill="#ffffff"/>
<rect x="125.00" y="769" width="28.00" height="1" fill="#ffffff"/>
<rect x="164.00" y="769" width="28.00" height="1" fill="#ffffff"/>
<rect x="203.00" y="769" width="27.00" height="1" fill="#ffffff"/>
<rect x="242.00" y="769" width="27.00" height="1" fill="#ffffff"/>
<rect x="280.00" y="769" width="12.00" height="1" fill="#ffffff"/>
<rect x="25.00" y="779" width="12.00" height="1" fill="#ffffff"/>
<rect x="48.00" y="779" width="27.00" height="1" fill="#ffffff"/>
<rect x="87.00" y="779" width="27.00" height="1" fill="#ffffff"/>
<rect x="125.00" y="779" width="28.00" height="1" fill="#ffffff"/>
<rect x="164.00" y="779" width="28.00" height="1" fill="#ffffff"/>
<rect x="203.00" y="779" width="27.00" height="1" fill="#ffffff"/>
<rect x="242.00" y="779" width="27.00" height="1" fill="#ffffff"/>
<rect x="280.00" y="779" width="12.00" height="1" fill="#ffffff"/>
<rect x="38.50" y="669.90" width="8.00" height="122.60" fill="#58595b" stroke="#231f20" stroke-width="1.0" />
<clipPath id="c424_709"><path d="M33.80,709.80 L51.00,709.80 Q53.10,721.80 52.80,730.60 Q53.10,739.40 51.00,751.40 L33.80,751.40 Q31.70,739.40 32.00,730.60 Q31.70,721.80 33.80,709.80 Z"/></clipPath>
<path d="M33.80,709.80 L51.00,709.80 Q53.10,721.80 52.80,730.60 Q53.10,739.40 51.00,751.40 L33.80,751.40 Q31.70,739.40 32.00,730.60 Q31.70,721.80 33.80,709.80 Z" fill="url(#geq)"/>
<g clip-path="url(#c424_709)">
<rect x="30.4" y="712.80" width="24" height="1.0" fill="#a4a6a9"/>
<rect x="30.4" y="715.60" width="24" height="1.0" fill="#a4a6a9"/>
<rect x="30.4" y="718.30" width="24" height="1.0" fill="#a4a6a9"/>
<rect x="30.4" y="721.20" width="24" height="1.0" fill="#a4a6a9"/>
<rect x="30.4" y="723.90" width="24" height="1.0" fill="#a4a6a9"/>
<rect x="30.4" y="737.60" width="24" height="1.0" fill="#a4a6a9"/>
<rect x="30.4" y="740.50" width="24" height="1.0" fill="#a4a6a9"/>
<rect x="30.4" y="743.30" width="24" height="1.0" fill="#a4a6a9"/>
<rect x="30.4" y="746.30" width="24" height="1.0" fill="#a4a6a9"/>
<rect x="30.4" y="748.90" width="24" height="1.0" fill="#a4a6a9"/>
</g>
<rect x="32.52" y="727.02" width="19.75" height="8.55" fill="#e6e7e8" stroke="#231f20" stroke-width="1.05" />
<rect x="32.00" y="729.55" width="20.80" height="3.50" fill="#231f20" />
<rect x="77.50" y="669.90" width="8.00" height="122.60" fill="#58595b" stroke="#231f20" stroke-width="1.0" />
<clipPath id="c814_709"><path d="M72.80,709.80 L90.00,709.80 Q92.10,721.80 91.80,730.60 Q92.10,739.40 90.00,751.40 L72.80,751.40 Q70.70,739.40 71.00,730.60 Q70.70,721.80 72.80,709.80 Z"/></clipPath>
<path d="M72.80,709.80 L90.00,709.80 Q92.10,721.80 91.80,730.60 Q92.10,739.40 90.00,751.40 L72.80,751.40 Q70.70,739.40 71.00,730.60 Q70.70,721.80 72.80,709.80 Z" fill="url(#geq)"/>
<g clip-path="url(#c814_709)">
<rect x="69.4" y="712.80" width="24" height="1.0" fill="#a4a6a9"/>
<rect x="69.4" y="715.60" width="24" height="1.0" fill="#a4a6a9"/>
<rect x="69.4" y="718.30" width="24" height="1.0" fill="#a4a6a9"/>
<rect x="69.4" y="721.20" width="24" height="1.0" fill="#a4a6a9"/>
<rect x="69.4" y="723.90" width="24" height="1.0" fill="#a4a6a9"/>
<rect x="69.4" y="737.60" width="24" height="1.0" fill="#a4a6a9"/>
<rect x="69.4" y="740.50" width="24" height="1.0" fill="#a4a6a9"/>
<rect x="69.4" y="743.30" width="24" height="1.0" fill="#a4a6a9"/>
<rect x="69.4" y="746.30" width="24" height="1.0" fill="#a4a6a9"/>
<rect x="69.4" y="748.90" width="24" height="1.0" fill="#a4a6a9"/>
</g>
<rect x="71.53" y="727.02" width="19.75" height="8.55" fill="#e6e7e8" stroke="#231f20" stroke-width="1.05" />
<rect x="71.00" y="729.55" width="20.80" height="3.50" fill="#231f20" />
<rect x="115.50" y="669.90" width="8.00" height="122.60" fill="#58595b" stroke="#231f20" stroke-width="1.0" />
<clipPath id="c1194_709"><path d="M110.80,709.80 L128.00,709.80 Q130.10,721.80 129.80,730.60 Q130.10,739.40 128.00,751.40 L110.80,751.40 Q108.70,739.40 109.00,730.60 Q108.70,721.80 110.80,709.80 Z"/></clipPath>
<path d="M110.80,709.80 L128.00,709.80 Q130.10,721.80 129.80,730.60 Q130.10,739.40 128.00,751.40 L110.80,751.40 Q108.70,739.40 109.00,730.60 Q108.70,721.80 110.80,709.80 Z" fill="url(#geq)"/>
<g clip-path="url(#c1194_709)">
<rect x="107.4" y="712.80" width="24" height="1.0" fill="#a4a6a9"/>
<rect x="107.4" y="715.60" width="24" height="1.0" fill="#a4a6a9"/>
<rect x="107.4" y="718.30" width="24" height="1.0" fill="#a4a6a9"/>
<rect x="107.4" y="721.20" width="24" height="1.0" fill="#a4a6a9"/>
<rect x="107.4" y="723.90" width="24" height="1.0" fill="#a4a6a9"/>
<rect x="107.4" y="737.60" width="24" height="1.0" fill="#a4a6a9"/>
<rect x="107.4" y="740.50" width="24" height="1.0" fill="#a4a6a9"/>
<rect x="107.4" y="743.30" width="24" height="1.0" fill="#a4a6a9"/>
<rect x="107.4" y="746.30" width="24" height="1.0" fill="#a4a6a9"/>
<rect x="107.4" y="748.90" width="24" height="1.0" fill="#a4a6a9"/>
</g>
<rect x="109.53" y="727.02" width="19.75" height="8.55" fill="#e6e7e8" stroke="#231f20" stroke-width="1.05" />
<rect x="109.00" y="729.55" width="20.80" height="3.50" fill="#231f20" />
<rect x="154.50" y="669.90" width="8.00" height="122.60" fill="#58595b" stroke="#231f20" stroke-width="1.0" />
<clipPath id="c1584_709"><path d="M149.80,709.80 L167.00,709.80 Q169.10,721.80 168.80,730.60 Q169.10,739.40 167.00,751.40 L149.80,751.40 Q147.70,739.40 148.00,730.60 Q147.70,721.80 149.80,709.80 Z"/></clipPath>
<path d="M149.80,709.80 L167.00,709.80 Q169.10,721.80 168.80,730.60 Q169.10,739.40 167.00,751.40 L149.80,751.40 Q147.70,739.40 148.00,730.60 Q147.70,721.80 149.80,709.80 Z" fill="url(#geq)"/>
<g clip-path="url(#c1584_709)">
<rect x="146.4" y="712.80" width="24" height="1.0" fill="#a4a6a9"/>
<rect x="146.4" y="715.60" width="24" height="1.0" fill="#a4a6a9"/>
<rect x="146.4" y="718.30" width="24" height="1.0" fill="#a4a6a9"/>
<rect x="146.4" y="721.20" width="24" height="1.0" fill="#a4a6a9"/>
<rect x="146.4" y="723.90" width="24" height="1.0" fill="#a4a6a9"/>
<rect x="146.4" y="737.60" width="24" height="1.0" fill="#a4a6a9"/>
<rect x="146.4" y="740.50" width="24" height="1.0" fill="#a4a6a9"/>
<rect x="146.4" y="743.30" width="24" height="1.0" fill="#a4a6a9"/>
<rect x="146.4" y="746.30" width="24" height="1.0" fill="#a4a6a9"/>
<rect x="146.4" y="748.90" width="24" height="1.0" fill="#a4a6a9"/>
</g>
<rect x="148.53" y="727.02" width="19.75" height="8.55" fill="#e6e7e8" stroke="#231f20" stroke-width="1.05" />
<rect x="148.00" y="729.55" width="20.80" height="3.50" fill="#231f20" />
<rect x="193.50" y="669.90" width="8.00" height="122.60" fill="#58595b" stroke="#231f20" stroke-width="1.0" />
<clipPath id="c1974_709"><path d="M188.80,709.80 L206.00,709.80 Q208.10,721.80 207.80,730.60 Q208.10,739.40 206.00,751.40 L188.80,751.40 Q186.70,739.40 187.00,730.60 Q186.70,721.80 188.80,709.80 Z"/></clipPath>
<path d="M188.80,709.80 L206.00,709.80 Q208.10,721.80 207.80,730.60 Q208.10,739.40 206.00,751.40 L188.80,751.40 Q186.70,739.40 187.00,730.60 Q186.70,721.80 188.80,709.80 Z" fill="url(#geq)"/>
<g clip-path="url(#c1974_709)">
<rect x="185.4" y="712.80" width="24" height="1.0" fill="#a4a6a9"/>
<rect x="185.4" y="715.60" width="24" height="1.0" fill="#a4a6a9"/>
<rect x="185.4" y="718.30" width="24" height="1.0" fill="#a4a6a9"/>
<rect x="185.4" y="721.20" width="24" height="1.0" fill="#a4a6a9"/>
<rect x="185.4" y="723.90" width="24" height="1.0" fill="#a4a6a9"/>
<rect x="185.4" y="737.60" width="24" height="1.0" fill="#a4a6a9"/>
<rect x="185.4" y="740.50" width="24" height="1.0" fill="#a4a6a9"/>
<rect x="185.4" y="743.30" width="24" height="1.0" fill="#a4a6a9"/>
<rect x="185.4" y="746.30" width="24" height="1.0" fill="#a4a6a9"/>
<rect x="185.4" y="748.90" width="24" height="1.0" fill="#a4a6a9"/>
</g>
<rect x="187.53" y="727.02" width="19.75" height="8.55" fill="#e6e7e8" stroke="#231f20" stroke-width="1.05" />
<rect x="187.00" y="729.55" width="20.80" height="3.50" fill="#231f20" />
<rect x="232.50" y="669.90" width="8.00" height="122.60" fill="#58595b" stroke="#231f20" stroke-width="1.0" />
<clipPath id="c2364_709"><path d="M227.80,709.80 L245.00,709.80 Q247.10,721.80 246.80,730.60 Q247.10,739.40 245.00,751.40 L227.80,751.40 Q225.70,739.40 226.00,730.60 Q225.70,721.80 227.80,709.80 Z"/></clipPath>
<path d="M227.80,709.80 L245.00,709.80 Q247.10,721.80 246.80,730.60 Q247.10,739.40 245.00,751.40 L227.80,751.40 Q225.70,739.40 226.00,730.60 Q225.70,721.80 227.80,709.80 Z" fill="url(#geq)"/>
<g clip-path="url(#c2364_709)">
<rect x="224.4" y="712.80" width="24" height="1.0" fill="#a4a6a9"/>
<rect x="224.4" y="715.60" width="24" height="1.0" fill="#a4a6a9"/>
<rect x="224.4" y="718.30" width="24" height="1.0" fill="#a4a6a9"/>
<rect x="224.4" y="721.20" width="24" height="1.0" fill="#a4a6a9"/>
<rect x="224.4" y="723.90" width="24" height="1.0" fill="#a4a6a9"/>
<rect x="224.4" y="737.60" width="24" height="1.0" fill="#a4a6a9"/>
<rect x="224.4" y="740.50" width="24" height="1.0" fill="#a4a6a9"/>
<rect x="224.4" y="743.30" width="24" height="1.0" fill="#a4a6a9"/>
<rect x="224.4" y="746.30" width="24" height="1.0" fill="#a4a6a9"/>
<rect x="224.4" y="748.90" width="24" height="1.0" fill="#a4a6a9"/>
</g>
<rect x="226.53" y="727.02" width="19.75" height="8.55" fill="#e6e7e8" stroke="#231f20" stroke-width="1.05" />
<rect x="226.00" y="729.55" width="20.80" height="3.50" fill="#231f20" />
<rect x="270.50" y="669.90" width="8.00" height="122.60" fill="#58595b" stroke="#231f20" stroke-width="1.0" />
<clipPath id="c2744_709"><path d="M265.80,709.80 L283.00,709.80 Q285.10,721.80 284.80,730.60 Q285.10,739.40 283.00,751.40 L265.80,751.40 Q263.70,739.40 264.00,730.60 Q263.70,721.80 265.80,709.80 Z"/></clipPath>
<path d="M265.80,709.80 L283.00,709.80 Q285.10,721.80 284.80,730.60 Q285.10,739.40 283.00,751.40 L265.80,751.40 Q263.70,739.40 264.00,730.60 Q263.70,721.80 265.80,709.80 Z" fill="url(#geq)"/>
<g clip-path="url(#c2744_709)">
<rect x="262.4" y="712.80" width="24" height="1.0" fill="#a4a6a9"/>
<rect x="262.4" y="715.60" width="24" height="1.0" fill="#a4a6a9"/>
<rect x="262.4" y="718.30" width="24" height="1.0" fill="#a4a6a9"/>
<rect x="262.4" y="721.20" width="24" height="1.0" fill="#a4a6a9"/>
<rect x="262.4" y="723.90" width="24" height="1.0" fill="#a4a6a9"/>
<rect x="262.4" y="737.60" width="24" height="1.0" fill="#a4a6a9"/>
<rect x="262.4" y="740.50" width="24" height="1.0" fill="#a4a6a9"/>
<rect x="262.4" y="743.30" width="24" height="1.0" fill="#a4a6a9"/>
<rect x="262.4" y="746.30" width="24" height="1.0" fill="#a4a6a9"/>
<rect x="262.4" y="748.90" width="24" height="1.0" fill="#a4a6a9"/>
</g>
<rect x="264.52" y="727.02" width="19.75" height="8.55" fill="#e6e7e8" stroke="#231f20" stroke-width="1.05" />
<rect x="264.00" y="729.55" width="20.80" height="3.50" fill="#231f20" />
<text x="6.63" y="685.80" font-size="9.0" fill="#ffffff" textLength="16.06" lengthAdjust="spacingAndGlyphs" >+10</text>
<text x="293.44" y="685.80" font-size="9.0" fill="#ffffff" textLength="15.54" lengthAdjust="spacingAndGlyphs" >+10</text>
<text x="10.05" y="704.80" font-size="9.0" fill="#ffffff" textLength="12.68" lengthAdjust="spacingAndGlyphs" >+ 3</text>
<text x="296.87" y="704.80" font-size="9.0" fill="#ffffff" textLength="12.14" lengthAdjust="spacingAndGlyphs" >+ 3</text>
<text x="17.51" y="734.30" font-size="9.0" fill="#ffffff" textLength="3.98" lengthAdjust="spacingAndGlyphs" >0</text>
<text x="303.61" y="734.30" font-size="9.0" fill="#ffffff" textLength="5.39" lengthAdjust="spacingAndGlyphs" >0</text>
<text x="13.86" y="762.80" font-size="9.0" fill="#ffffff" textLength="8.79" lengthAdjust="spacingAndGlyphs" >- 3</text>
<text x="300.37" y="762.80" font-size="9.0" fill="#ffffff" textLength="8.58" lengthAdjust="spacingAndGlyphs" >- 3</text>
<text x="9.28" y="782.80" font-size="9.0" fill="#ffffff" textLength="13.39" lengthAdjust="spacingAndGlyphs" >-10</text>
<text x="296.20" y="782.80" font-size="9.0" fill="#ffffff" textLength="12.75" lengthAdjust="spacingAndGlyphs" >-10</text>
<text x="31.44" y="808.10" font-size="9.5" fill="#ffffff" textLength="21.41" lengthAdjust="spacingAndGlyphs" >63Hz</text>
<text x="67.81" y="808.10" font-size="9.5" fill="#ffffff" textLength="26.66" lengthAdjust="spacingAndGlyphs" >125Hz</text>
<text x="107.08" y="808.10" font-size="9.5" fill="#ffffff" textLength="25.78" lengthAdjust="spacingAndGlyphs" >400Hz</text>
<text x="148.75" y="808.10" font-size="9.5" fill="#ffffff" textLength="19.77" lengthAdjust="spacingAndGlyphs" >1kHz</text>
<text x="182.53" y="808.10" font-size="9.5" fill="#ffffff" textLength="29.06" lengthAdjust="spacingAndGlyphs" >2.5kHz</text>
<text x="226.05" y="808.10" font-size="9.5" fill="#ffffff" textLength="20.59" lengthAdjust="spacingAndGlyphs" >6kHz</text>
<text x="261.51" y="808.10" font-size="9.5" fill="#ffffff" textLength="26.25" lengthAdjust="spacingAndGlyphs" >12kHz</text>
<rect x="310.10" y="617.00" width="11.40" height="1.60" fill="#d1d2d4"/>
<rect x="324.80" y="617.15" width="9.20" height="1.30" fill="#231f20"/>
<text x="335.53" y="624.90" font-size="20.0" fill="#231f20" textLength="22.93" lengthAdjust="spacingAndGlyphs" stroke="#231f20" stroke-width="0.35" >44</text>
<rect x="70.55" y="819.00" width="1.40" height="14.00" fill="#ffffff"/>
<rect x="70.55" y="818.95" width="250.95" height="1.30" fill="#ffffff"/>
<rect x="324.80" y="819.10" width="9.20" height="1.00" fill="#231f20"/>
<text x="335.53" y="826.65" font-size="20.0" fill="#231f20" textLength="23.15" lengthAdjust="spacingAndGlyphs" stroke="#231f20" stroke-width="0.35" >45</text>
<rect x="287.70" y="856.00" width="33.80" height="1.20" fill="#ffffff"/>
<rect x="324.80" y="856.10" width="9.20" height="1.00" fill="#231f20"/>
<text x="335.53" y="863.80" font-size="20.0" fill="#231f20" textLength="23.26" lengthAdjust="spacingAndGlyphs" stroke="#231f20" stroke-width="0.35" >46</text>
<rect x="296.30" y="1110.95" width="25.20" height="1.20" fill="#ffffff"/>
<rect x="324.80" y="1111.05" width="9.20" height="1.00" fill="#231f20"/>
<text x="335.53" y="1119.00" font-size="20.0" fill="#231f20" textLength="23.15" lengthAdjust="spacingAndGlyphs" stroke="#231f20" stroke-width="0.35" >48</text>
<rect x="307.10" y="1356.00" width="14.40" height="1.50" fill="#d1d2d4"/>
<rect x="324.80" y="1355.70" width="9.20" height="1.10" fill="#231f20"/>
<text x="335.53" y="1363.80" font-size="20.0" fill="#231f20" textLength="23.26" lengthAdjust="spacingAndGlyphs" stroke="#231f20" stroke-width="0.35" >49</text>
<text x="31.34" y="843.90" font-size="9.7" fill="#ffffff" textLength="31.15" lengthAdjust="spacingAndGlyphs" >POWER</text>
<circle cx="71.27" cy="840.50" r="4.75" fill="#3ab54a" stroke="#231f20" stroke-width="1.05"/>
<rect x="110.90" y="830.70" width="56.20" height="62.40" fill="#d1d3d4" />
<circle cx="139.00" cy="840.30" r="4.75" fill="#ed1c24" stroke="#231f20" stroke-width="1.05"/>
<rect x="114.90" y="848.10" width="48.00" height="11.70" fill="#6d6e71" />
<g stroke="#ffffff" stroke-width="0.25">
<text x="117.38" y="857.35" font-size="10.0" fill="#ffffff" textLength="43.04" lengthAdjust="spacingAndGlyphs" >STANDBY</text>
</g>
<rect x="123.45" y="862.45" width="32.30" height="21.10" fill="#ffffff" stroke="#231f20" stroke-width="0.9" />
<rect x="124.00" y="863.00" width="30.30" height="19.10" fill="#ed1c24" />
<rect x="138.00" y="891.00" width="1.60" height="6.90" fill="#dcddde"/>
<rect x="138.10" y="896.00" width="183.40" height="1.90" fill="#dcddde"/>
<rect x="324.80" y="895.95" width="9.20" height="2.00" fill="#231f20"/>
<text x="335.52" y="904.40" font-size="20.0" fill="#231f20" textLength="23.38" lengthAdjust="spacingAndGlyphs" stroke="#231f20" stroke-width="0.35" >47</text>
<text x="227.29" y="832.80" font-size="9.3" fill="#ffffff" textLength="4.25" lengthAdjust="spacingAndGlyphs" >L</text>
<text x="272.35" y="832.80" font-size="9.3" fill="#ffffff" textLength="4.98" lengthAdjust="spacingAndGlyphs" >R</text>
<circle cx="229.10" cy="840.50" r="4.75" fill="#ed1c24" stroke="#231f20" stroke-width="1.05"/>
<circle cx="274.70" cy="840.50" r="4.75" fill="#ed1c24" stroke="#231f20" stroke-width="1.05"/>
<rect x="238.00" y="839.95" width="3.90" height="1.00" fill="#ffffff"/>
<rect x="262.10" y="839.95" width="3.90" height="1.00" fill="#ffffff"/>
<text x="244.21" y="843.40" font-size="9.3" fill="#ffffff" textLength="16.65" lengthAdjust="spacingAndGlyphs" >+16</text>
<circle cx="229.10" cy="856.65" r="4.75" fill="#f0b637" stroke="#231f20" stroke-width="1.05"/>
<circle cx="274.70" cy="856.65" r="4.75" fill="#f0b637" stroke="#231f20" stroke-width="1.05"/>
<rect x="238.00" y="856.10" width="3.90" height="1.00" fill="#ffffff"/>
<rect x="262.10" y="856.10" width="3.90" height="1.00" fill="#ffffff"/>
<text x="244.21" y="859.55" font-size="9.3" fill="#ffffff" textLength="16.70" lengthAdjust="spacingAndGlyphs" >+12</text>
<circle cx="229.10" cy="872.80" r="4.75" fill="#f0b637" stroke="#231f20" stroke-width="1.05"/>
<circle cx="274.70" cy="872.80" r="4.75" fill="#f0b637" stroke="#231f20" stroke-width="1.05"/>
<rect x="238.00" y="872.25" width="3.90" height="1.00" fill="#ffffff"/>
<rect x="262.10" y="872.25" width="3.90" height="1.00" fill="#ffffff"/>
<text x="244.99" y="875.70" font-size="9.3" fill="#ffffff" textLength="11.67" lengthAdjust="spacingAndGlyphs" >+9</text>
<circle cx="229.10" cy="888.95" r="4.75" fill="#3ab54a" stroke="#231f20" stroke-width="1.05"/>
<circle cx="274.70" cy="888.95" r="4.75" fill="#3ab54a" stroke="#231f20" stroke-width="1.05"/>
<rect x="238.00" y="888.40" width="3.90" height="1.00" fill="#ffffff"/>
<rect x="262.10" y="888.40" width="3.90" height="1.00" fill="#ffffff"/>
<text x="244.99" y="891.85" font-size="9.3" fill="#ffffff" textLength="11.67" lengthAdjust="spacingAndGlyphs" >+6</text>
<circle cx="229.10" cy="905.10" r="4.75" fill="#3ab54a" stroke="#231f20" stroke-width="1.05"/>
<circle cx="274.70" cy="905.10" r="4.75" fill="#3ab54a" stroke="#231f20" stroke-width="1.05"/>
<rect x="238.00" y="904.55" width="3.90" height="1.00" fill="#ffffff"/>
<rect x="262.10" y="904.55" width="3.90" height="1.00" fill="#ffffff"/>
<text x="244.99" y="908.00" font-size="9.3" fill="#ffffff" textLength="11.67" lengthAdjust="spacingAndGlyphs" >+3</text>
<circle cx="229.10" cy="921.25" r="4.75" fill="#3ab54a" stroke="#231f20" stroke-width="1.05"/>
<circle cx="274.70" cy="921.25" r="4.75" fill="#3ab54a" stroke="#231f20" stroke-width="1.05"/>
<rect x="238.00" y="920.70" width="3.90" height="1.00" fill="#ffffff"/>
<rect x="262.10" y="920.70" width="3.90" height="1.00" fill="#ffffff"/>
<text x="251.53" y="924.15" font-size="9.3" fill="#ffffff" textLength="5.15" lengthAdjust="spacingAndGlyphs" >0</text>
<circle cx="229.10" cy="937.40" r="4.75" fill="#3ab54a" stroke="#231f20" stroke-width="1.05"/>
<circle cx="274.70" cy="937.40" r="4.75" fill="#3ab54a" stroke="#231f20" stroke-width="1.05"/>
<rect x="238.00" y="936.85" width="3.90" height="1.00" fill="#ffffff"/>
<rect x="262.10" y="936.85" width="3.90" height="1.00" fill="#ffffff"/>
<text x="247.86" y="940.30" font-size="9.3" fill="#ffffff" textLength="8.78" lengthAdjust="spacingAndGlyphs" >-3</text>
<circle cx="229.10" cy="953.55" r="4.75" fill="#3ab54a" stroke="#231f20" stroke-width="1.05"/>
<circle cx="274.70" cy="953.55" r="4.75" fill="#3ab54a" stroke="#231f20" stroke-width="1.05"/>
<rect x="238.00" y="953.00" width="3.90" height="1.00" fill="#ffffff"/>
<rect x="262.10" y="953.00" width="3.90" height="1.00" fill="#ffffff"/>
<text x="247.86" y="956.45" font-size="9.3" fill="#ffffff" textLength="8.78" lengthAdjust="spacingAndGlyphs" >-6</text>
<circle cx="229.10" cy="969.70" r="4.75" fill="#3ab54a" stroke="#231f20" stroke-width="1.05"/>
<circle cx="274.70" cy="969.70" r="4.75" fill="#3ab54a" stroke="#231f20" stroke-width="1.05"/>
<rect x="238.00" y="969.15" width="3.90" height="1.00" fill="#ffffff"/>
<rect x="262.10" y="969.15" width="3.90" height="1.00" fill="#ffffff"/>
<text x="247.86" y="972.60" font-size="9.3" fill="#ffffff" textLength="8.78" lengthAdjust="spacingAndGlyphs" >-9</text>
<circle cx="229.10" cy="985.85" r="4.75" fill="#3ab54a" stroke="#231f20" stroke-width="1.05"/>
<circle cx="274.70" cy="985.85" r="4.75" fill="#3ab54a" stroke="#231f20" stroke-width="1.05"/>
<rect x="238.00" y="985.30" width="3.90" height="1.00" fill="#ffffff"/>
<rect x="262.10" y="985.30" width="3.90" height="1.00" fill="#ffffff"/>
<text x="245.81" y="988.75" font-size="9.3" fill="#ffffff" textLength="12.42" lengthAdjust="spacingAndGlyphs" >-12</text>
<circle cx="229.10" cy="1002.00" r="4.75" fill="#3ab54a" stroke="#231f20" stroke-width="1.05"/>
<circle cx="274.70" cy="1002.00" r="4.75" fill="#3ab54a" stroke="#231f20" stroke-width="1.05"/>
<rect x="238.00" y="1001.45" width="3.90" height="1.00" fill="#ffffff"/>
<rect x="262.10" y="1001.45" width="3.90" height="1.00" fill="#ffffff"/>
<text x="245.82" y="1004.90" font-size="9.3" fill="#ffffff" textLength="12.33" lengthAdjust="spacingAndGlyphs" >-18</text>
<circle cx="229.10" cy="1018.15" r="4.75" fill="#3ab54a" stroke="#231f20" stroke-width="1.05"/>
<circle cx="274.70" cy="1018.15" r="4.75" fill="#3ab54a" stroke="#231f20" stroke-width="1.05"/>
<rect x="238.00" y="1017.60" width="3.90" height="1.00" fill="#ffffff"/>
<rect x="262.10" y="1017.60" width="3.90" height="1.00" fill="#ffffff"/>
<text x="245.82" y="1021.05" font-size="9.3" fill="#ffffff" textLength="12.24" lengthAdjust="spacingAndGlyphs" >-24</text>
<text x="222.66" y="1036.90" font-size="8.8" fill="#ffffff" textLength="12.73" lengthAdjust="spacingAndGlyphs" font-weight="bold" >PFL</text>
<circle cx="251.80" cy="1034.10" r="4.75" fill="#f0b637" stroke="#231f20" stroke-width="1.05"/>
<text x="266.07" y="1036.90" font-size="8.8" fill="#ffffff" textLength="17.07" lengthAdjust="spacingAndGlyphs" >L+R</text>
<rect x="92" y="910.90" width="2" height="482.90" fill="#ffffff" shape-rendering="crispEdges"/>
<rect x="183" y="910.90" width="1" height="482.90" fill="#ffffff" shape-rendering="crispEdges"/>
<text x="11.60" y="919.90" font-size="10.6" fill="#ffffff" textLength="28.75" lengthAdjust="spacingAndGlyphs" >AUX 3</text>
<text x="11.22" y="930.10" font-size="10.6" fill="#ffffff" textLength="23.17" lengthAdjust="spacingAndGlyphs" >POST</text>
<circle cx="48.50" cy="927.50" r="5.0" fill="#f0b637" stroke="#231f20" stroke-width="1.05"/>
<rect x="59.60" y="911.70" width="23.90" height="19.50" fill="#d1d3d4" stroke="#231f20" stroke-width="1.2" />
<text x="11.20" y="952.30" font-size="10.6" fill="#ffffff" textLength="31.60" lengthAdjust="spacingAndGlyphs" >FEEDB.</text>
<text x="11.23" y="962.00" font-size="10.6" fill="#ffffff" textLength="28.36" lengthAdjust="spacingAndGlyphs" >FILTER</text>
<circle cx="48.50" cy="959.70" r="4.75" fill="#3ab54a" stroke="#231f20" stroke-width="1.05"/>
<rect x="59.60" y="943.70" width="23.90" height="19.40" fill="#d1d3d4" stroke="#231f20" stroke-width="1.2" />
<circle cx="38.90" cy="995.5" r="17.0" fill="#c7c8ca"/>
<circle cx="38.90" cy="995.5" r="12.9" fill="#231f20"/>
<line x1="39.40" y1="995.7" x2="30.60" y2="1009.7" stroke="#ffffff" stroke-width="2.2"/>
<path d="M36.30,970.70 L38.90,968.10 L41.50,970.70 L38.90,973.30 Z" fill="#ffffff"/>
<path d="M14.70,983.90 L17.30,981.30 L19.90,983.90 L17.30,986.50 Z" fill="#ffffff"/>
<path d="M58.20,983.90 L60.80,981.30 L63.40,983.90 L60.80,986.50 Z" fill="#ffffff"/>
<path d="M14.70,1007.80 L17.30,1005.20 L19.90,1007.80 L17.30,1010.40 Z" fill="#ffffff"/>
<path d="M58.20,1007.80 L60.80,1005.20 L63.40,1007.80 L60.80,1010.40 Z" fill="#ffffff"/>
<text x="14.94" y="976.50" font-size="8.4" fill="#ffffff" textLength="15.16" lengthAdjust="spacingAndGlyphs" >300</text>
<text x="47.25" y="976.50" font-size="8.4" fill="#ffffff" textLength="15.04" lengthAdjust="spacingAndGlyphs" >630</text>
<text x="4.36" y="998.30" font-size="8.4" fill="#ffffff" textLength="14.32" lengthAdjust="spacingAndGlyphs" >125</text>
<text x="59.76" y="998.30" font-size="8.4" fill="#ffffff" textLength="14.11" lengthAdjust="spacingAndGlyphs" >2k0</text>
<text x="21.79" y="1019.90" font-size="8.4" fill="#ffffff" textLength="9.05" lengthAdjust="spacingAndGlyphs" >70</text>
<text x="47.68" y="1019.90" font-size="8.4" fill="#ffffff" textLength="18.92" lengthAdjust="spacingAndGlyphs" >7kHz</text>
<rect x="22.62" y="1030.62" width="32.65" height="19.50" fill="#ed1c24" stroke="#231f20" stroke-width="1.15" />
<circle cx="71.20" cy="1034.00" r="4.75" fill="#ed1c24" stroke="#231f20" stroke-width="1.05"/>
<text x="59.02" y="1050.10" font-size="9.6" fill="#ffffff" textLength="24.25" lengthAdjust="spacingAndGlyphs" >MUTE</text>
<rect x="5.90" y="1055.00" width="84.30" height="41.90" fill="#ffffff" />
<text x="49.03" y="1067.70" font-size="12.9" fill="#231f20" textLength="38.27" lengthAdjust="spacingAndGlyphs" >AUX 3</text>
<rect x="22.65" y="1101.80" width="32.60" height="19.50" fill="#d1d3d4" stroke="#231f20" stroke-width="1.2" />
<circle cx="71.05" cy="1105.10" r="4.75" fill="#f0b637" stroke="#231f20" stroke-width="1.05"/>
<text x="64.30" y="1121.00" font-size="9.5" fill="#ffffff" textLength="13.72" lengthAdjust="spacingAndGlyphs" stroke="#ffffff" stroke-width="0.2" >PFL</text>
<rect x="18.00" y="1163" width="15.00" height="1" fill="#ffffff"/>
<rect x="45.00" y="1163" width="15.00" height="1" fill="#ffffff"/>
<rect x="18.00" y="1200" width="15.00" height="1" fill="#ffffff"/>
<rect x="45.00" y="1200" width="15.00" height="1" fill="#ffffff"/>
<rect x="18.00" y="1206" width="15.00" height="1" fill="#ffffff"/>
<rect x="45.00" y="1206" width="15.00" height="1" fill="#ffffff"/>
<rect x="18.00" y="1209" width="15.00" height="1" fill="#ffffff"/>
<rect x="45.00" y="1209" width="15.00" height="1" fill="#ffffff"/>
<rect x="18.00" y="1214" width="15.00" height="1" fill="#ffffff"/>
<rect x="45.00" y="1214" width="15.00" height="1" fill="#ffffff"/>
<rect x="18.00" y="1217" width="15.00" height="1" fill="#ffffff"/>
<rect x="45.00" y="1217" width="15.00" height="1" fill="#ffffff"/>
<rect x="18.00" y="1221" width="15.00" height="2" fill="#ffffff"/>
<rect x="45.00" y="1221" width="15.00" height="2" fill="#ffffff"/>
<rect x="18.00" y="1225" width="15.00" height="1" fill="#ffffff"/>
<rect x="45.00" y="1225" width="15.00" height="1" fill="#ffffff"/>
<rect x="18.00" y="1229" width="15.00" height="1" fill="#ffffff"/>
<rect x="45.00" y="1229" width="15.00" height="1" fill="#ffffff"/>
<rect x="18.00" y="1235" width="15.00" height="1" fill="#ffffff"/>
<rect x="45.00" y="1235" width="15.00" height="1" fill="#ffffff"/>
<rect x="18.00" y="1244" width="15.00" height="1" fill="#ffffff"/>
<rect x="45.00" y="1244" width="15.00" height="1" fill="#ffffff"/>
<rect x="18.00" y="1254" width="15.00" height="1" fill="#ffffff"/>
<rect x="45.00" y="1254" width="15.00" height="1" fill="#ffffff"/>
<rect x="18.00" y="1285" width="15.00" height="1" fill="#ffffff"/>
<rect x="45.00" y="1285" width="15.00" height="1" fill="#ffffff"/>
<rect x="18.00" y="1300" width="15.00" height="1" fill="#ffffff"/>
<rect x="45.00" y="1300" width="15.00" height="1" fill="#ffffff"/>
<rect x="18.00" y="1312" width="15.00" height="1" fill="#ffffff"/>
<rect x="45.00" y="1312" width="15.00" height="1" fill="#ffffff"/>
<rect x="18.00" y="1335" width="3.20" height="1" fill="#ffffff"/>
<rect x="56.85" y="1335" width="3.15" height="1" fill="#ffffff"/>
<rect x="18.00" y="1349" width="3.20" height="1" fill="#ffffff"/>
<rect x="56.85" y="1349" width="3.15" height="1" fill="#ffffff"/>
<rect x="18.00" y="1356" width="3.20" height="1" fill="#ffffff"/>
<rect x="56.85" y="1356" width="3.15" height="1" fill="#ffffff"/>
<rect x="35.50" y="1150.50" width="8.00" height="169.20" fill="#58595b" stroke="#231f20" stroke-width="1.0" />
<rect x="21.00" y="1318.20" width="36.05" height="77.50" fill="#231f20"/>
<rect x="21.90" y="1319.10" width="34.25" height="11.01" fill="#2f6ab5"/>
<rect x="21.00" y="1330.06" width="36.05" height="2.45" fill="#2d3192"/>
<rect x="21.00" y="1332.46" width="36.05" height="2.68" fill="#29297d"/>
<rect x="21.00" y="1335.10" width="36.05" height="5.09" fill="#2e3f9c"/>
<rect x="21.00" y="1340.13" width="36.05" height="2.07" fill="#2d3092"/>
<rect x="21.00" y="1342.15" width="36.05" height="4.00" fill="#2f4fa6"/>
<rect x="21.00" y="1346.10" width="36.05" height="2.06" fill="#2d3092"/>
<rect x="21.00" y="1348.12" width="36.05" height="6.87" fill="#2f60b0"/>
<rect x="21.00" y="1354.93" width="36.05" height="3.62" fill="#ffffff"/>
<rect x="21.00" y="1358.50" width="36.05" height="6.48" fill="#2f6bb5"/>
<rect x="21.00" y="1364.93" width="36.05" height="3.15" fill="#29297d"/>
<rect x="21.00" y="1368.03" width="36.05" height="4.08" fill="#2f68b3"/>
<rect x="21.00" y="1372.06" width="36.05" height="2.07" fill="#2d3092"/>
<rect x="21.00" y="1374.08" width="36.05" height="3.85" fill="#2f6ab5"/>
<rect x="21.00" y="1377.88" width="36.05" height="3.15" fill="#2d3092"/>
<rect x="21.00" y="1380.98" width="36.05" height="3.92" fill="#2f6db7"/>
<rect x="21.90" y="1384.85" width="34.25" height="10.00" fill="url(#gblue)"/>
<text x="6.68" y="1166.85" font-size="8.6" fill="#ffffff" textLength="9.95" lengthAdjust="spacingAndGlyphs" >10</text>
<text x="9.29" y="1203.85" font-size="8.6" fill="#ffffff" textLength="5.03" lengthAdjust="spacingAndGlyphs" >5</text>
<text x="9.29" y="1225.15" font-size="8.6" fill="#ffffff" textLength="5.03" lengthAdjust="spacingAndGlyphs" >0</text>
<text x="9.29" y="1257.85" font-size="8.6" fill="#ffffff" textLength="5.03" lengthAdjust="spacingAndGlyphs" >5</text>
<text x="6.68" y="1288.85" font-size="8.6" fill="#ffffff" textLength="9.95" lengthAdjust="spacingAndGlyphs" >10</text>
<text x="6.68" y="1303.85" font-size="8.6" fill="#ffffff" textLength="9.95" lengthAdjust="spacingAndGlyphs" >15</text>
<text x="6.91" y="1315.85" font-size="8.6" fill="#ffffff" textLength="9.71" lengthAdjust="spacingAndGlyphs" >20</text>
<text x="7.00" y="1338.85" font-size="8.6" fill="#ffffff" textLength="9.61" lengthAdjust="spacingAndGlyphs" >30</text>
<text x="7.00" y="1352.85" font-size="8.6" fill="#ffffff" textLength="9.61" lengthAdjust="spacingAndGlyphs" >50</text>
<text x="6.77" y="1359.50" font-size="8.0" fill="#ffffff" textLength="10.04" lengthAdjust="spacingAndGlyphs" >∞</text>
<text x="101.90" y="919.90" font-size="10.6" fill="#ffffff" textLength="28.60" lengthAdjust="spacingAndGlyphs" >AUX 4</text>
<text x="101.52" y="930.10" font-size="10.6" fill="#ffffff" textLength="23.17" lengthAdjust="spacingAndGlyphs" >POST</text>
<circle cx="138.80" cy="927.50" r="5.0" fill="#f0b637" stroke="#231f20" stroke-width="1.05"/>
<rect x="149.90" y="911.70" width="23.90" height="19.50" fill="#d1d3d4" stroke="#231f20" stroke-width="1.2" />
<text x="101.50" y="952.30" font-size="10.6" fill="#ffffff" textLength="31.60" lengthAdjust="spacingAndGlyphs" >FEEDB.</text>
<text x="101.53" y="962.00" font-size="10.6" fill="#ffffff" textLength="28.36" lengthAdjust="spacingAndGlyphs" >FILTER</text>
<circle cx="138.80" cy="959.70" r="4.75" fill="#3ab54a" stroke="#231f20" stroke-width="1.05"/>
<rect x="149.90" y="943.70" width="23.90" height="19.40" fill="#d1d3d4" stroke="#231f20" stroke-width="1.2" />
<circle cx="129.20" cy="995.5" r="17.0" fill="#c7c8ca"/>
<circle cx="129.20" cy="995.5" r="12.9" fill="#231f20"/>
<line x1="129.70" y1="995.7" x2="120.90" y2="1009.7" stroke="#ffffff" stroke-width="2.2"/>
<path d="M126.60,970.70 L129.20,968.10 L131.80,970.70 L129.20,973.30 Z" fill="#ffffff"/>
<path d="M105.00,983.90 L107.60,981.30 L110.20,983.90 L107.60,986.50 Z" fill="#ffffff"/>
<path d="M148.50,983.90 L151.10,981.30 L153.70,983.90 L151.10,986.50 Z" fill="#ffffff"/>
<path d="M105.00,1007.80 L107.60,1005.20 L110.20,1007.80 L107.60,1010.40 Z" fill="#ffffff"/>
<path d="M148.50,1007.80 L151.10,1005.20 L153.70,1007.80 L151.10,1010.40 Z" fill="#ffffff"/>
<text x="105.24" y="976.50" font-size="8.4" fill="#ffffff" textLength="15.16" lengthAdjust="spacingAndGlyphs" >300</text>
<text x="137.55" y="976.50" font-size="8.4" fill="#ffffff" textLength="15.04" lengthAdjust="spacingAndGlyphs" >630</text>
<text x="94.66" y="998.30" font-size="8.4" fill="#ffffff" textLength="14.32" lengthAdjust="spacingAndGlyphs" >125</text>
<text x="150.06" y="998.30" font-size="8.4" fill="#ffffff" textLength="14.11" lengthAdjust="spacingAndGlyphs" >2k0</text>
<text x="112.09" y="1019.90" font-size="8.4" fill="#ffffff" textLength="9.05" lengthAdjust="spacingAndGlyphs" >70</text>
<text x="137.98" y="1019.90" font-size="8.4" fill="#ffffff" textLength="18.92" lengthAdjust="spacingAndGlyphs" >7kHz</text>
<rect x="113.62" y="1030.62" width="31.50" height="19.50" fill="#ed1c24" stroke="#231f20" stroke-width="1.15" />
<circle cx="161.45" cy="1034.00" r="4.75" fill="#ed1c24" stroke="#231f20" stroke-width="1.05"/>
<text x="149.15" y="1050.10" font-size="9.6" fill="#ffffff" textLength="24.62" lengthAdjust="spacingAndGlyphs" >MUTE</text>
<rect x="95.86" y="1055.00" width="84.24" height="41.90" fill="#ffffff" />
<text x="139.03" y="1067.70" font-size="12.9" fill="#231f20" textLength="38.47" lengthAdjust="spacingAndGlyphs" >AUX 4</text>
<rect x="113.65" y="1101.80" width="31.45" height="19.50" fill="#d1d3d4" stroke="#231f20" stroke-width="1.2" />
<circle cx="161.45" cy="1105.10" r="4.75" fill="#f0b637" stroke="#231f20" stroke-width="1.05"/>
<text x="154.29" y="1121.00" font-size="9.5" fill="#ffffff" textLength="14.00" lengthAdjust="spacingAndGlyphs" stroke="#ffffff" stroke-width="0.2" >PFL</text>
<rect x="108.00" y="1163" width="16.00" height="1" fill="#ffffff"/>
<rect x="135.00" y="1163" width="15.00" height="1" fill="#ffffff"/>
<rect x="108.00" y="1200" width="16.00" height="1" fill="#ffffff"/>
<rect x="135.00" y="1200" width="15.00" height="1" fill="#ffffff"/>
<rect x="108.00" y="1206" width="16.00" height="1" fill="#ffffff"/>
<rect x="135.00" y="1206" width="15.00" height="1" fill="#ffffff"/>
<rect x="108.00" y="1209" width="16.00" height="1" fill="#ffffff"/>
<rect x="135.00" y="1209" width="15.00" height="1" fill="#ffffff"/>
<rect x="108.00" y="1214" width="16.00" height="1" fill="#ffffff"/>
<rect x="135.00" y="1214" width="15.00" height="1" fill="#ffffff"/>
<rect x="108.00" y="1217" width="16.00" height="1" fill="#ffffff"/>
<rect x="135.00" y="1217" width="15.00" height="1" fill="#ffffff"/>
<rect x="108.00" y="1221" width="16.00" height="2" fill="#ffffff"/>
<rect x="135.00" y="1221" width="15.00" height="2" fill="#ffffff"/>
<rect x="108.00" y="1225" width="16.00" height="1" fill="#ffffff"/>
<rect x="135.00" y="1225" width="15.00" height="1" fill="#ffffff"/>
<rect x="108.00" y="1229" width="16.00" height="1" fill="#ffffff"/>
<rect x="135.00" y="1229" width="15.00" height="1" fill="#ffffff"/>
<rect x="108.00" y="1235" width="16.00" height="1" fill="#ffffff"/>
<rect x="135.00" y="1235" width="15.00" height="1" fill="#ffffff"/>
<rect x="108.00" y="1244" width="16.00" height="1" fill="#ffffff"/>
<rect x="135.00" y="1244" width="15.00" height="1" fill="#ffffff"/>
<rect x="108.00" y="1254" width="16.00" height="1" fill="#ffffff"/>
<rect x="135.00" y="1254" width="15.00" height="1" fill="#ffffff"/>
<rect x="108.00" y="1285" width="16.00" height="1" fill="#ffffff"/>
<rect x="135.00" y="1285" width="15.00" height="1" fill="#ffffff"/>
<rect x="108.00" y="1300" width="16.00" height="1" fill="#ffffff"/>
<rect x="135.00" y="1300" width="15.00" height="1" fill="#ffffff"/>
<rect x="108.00" y="1312" width="16.00" height="1" fill="#ffffff"/>
<rect x="135.00" y="1312" width="15.00" height="1" fill="#ffffff"/>
<rect x="108.00" y="1335" width="3.20" height="1" fill="#ffffff"/>
<rect x="147.80" y="1335" width="2.20" height="1" fill="#ffffff"/>
<rect x="108.00" y="1349" width="3.20" height="1" fill="#ffffff"/>
<rect x="147.80" y="1349" width="2.20" height="1" fill="#ffffff"/>
<rect x="108.00" y="1356" width="3.20" height="1" fill="#ffffff"/>
<rect x="147.80" y="1356" width="2.20" height="1" fill="#ffffff"/>
<rect x="125.50" y="1150.50" width="8.00" height="169.20" fill="#58595b" stroke="#231f20" stroke-width="1.0" />
<rect x="111.00" y="1318.20" width="37.00" height="77.50" fill="#231f20"/>
<rect x="111.90" y="1319.10" width="35.20" height="11.01" fill="#2f6ab5"/>
<rect x="111.00" y="1330.06" width="37.00" height="2.45" fill="#2d3192"/>
<rect x="111.00" y="1332.46" width="37.00" height="2.68" fill="#29297d"/>
<rect x="111.00" y="1335.10" width="37.00" height="5.09" fill="#2e3f9c"/>
<rect x="111.00" y="1340.13" width="37.00" height="2.07" fill="#2d3092"/>
<rect x="111.00" y="1342.15" width="37.00" height="4.00" fill="#2f4fa6"/>
<rect x="111.00" y="1346.10" width="37.00" height="2.06" fill="#2d3092"/>
<rect x="111.00" y="1348.12" width="37.00" height="6.87" fill="#2f60b0"/>
<rect x="111.00" y="1354.93" width="37.00" height="3.62" fill="#ffffff"/>
<rect x="111.00" y="1358.50" width="37.00" height="6.48" fill="#2f6bb5"/>
<rect x="111.00" y="1364.93" width="37.00" height="3.15" fill="#29297d"/>
<rect x="111.00" y="1368.03" width="37.00" height="4.08" fill="#2f68b3"/>
<rect x="111.00" y="1372.06" width="37.00" height="2.07" fill="#2d3092"/>
<rect x="111.00" y="1374.08" width="37.00" height="3.85" fill="#2f6ab5"/>
<rect x="111.00" y="1377.88" width="37.00" height="3.15" fill="#2d3092"/>
<rect x="111.00" y="1380.98" width="37.00" height="3.92" fill="#2f6db7"/>
<rect x="111.90" y="1384.85" width="35.20" height="10.00" fill="url(#gblue)"/>
<text x="96.68" y="1166.85" font-size="8.6" fill="#ffffff" textLength="9.95" lengthAdjust="spacingAndGlyphs" >10</text>
<text x="99.29" y="1203.85" font-size="8.6" fill="#ffffff" textLength="5.03" lengthAdjust="spacingAndGlyphs" >5</text>
<text x="99.29" y="1225.15" font-size="8.6" fill="#ffffff" textLength="5.03" lengthAdjust="spacingAndGlyphs" >0</text>
<text x="99.29" y="1257.85" font-size="8.6" fill="#ffffff" textLength="5.03" lengthAdjust="spacingAndGlyphs" >5</text>
<text x="96.68" y="1288.85" font-size="8.6" fill="#ffffff" textLength="9.95" lengthAdjust="spacingAndGlyphs" >10</text>
<text x="96.68" y="1303.85" font-size="8.6" fill="#ffffff" textLength="9.95" lengthAdjust="spacingAndGlyphs" >15</text>
<text x="96.91" y="1315.85" font-size="8.6" fill="#ffffff" textLength="9.71" lengthAdjust="spacingAndGlyphs" >20</text>
<text x="97.00" y="1338.85" font-size="8.6" fill="#ffffff" textLength="9.61" lengthAdjust="spacingAndGlyphs" >30</text>
<text x="97.00" y="1352.85" font-size="8.6" fill="#ffffff" textLength="9.61" lengthAdjust="spacingAndGlyphs" >50</text>
<text x="96.77" y="1359.50" font-size="8.0" fill="#ffffff" textLength="10.04" lengthAdjust="spacingAndGlyphs" >∞</text>
<rect x="187.00" y="1054.00" width="132.00" height="45.00" fill="#ffffff" />
<text x="212.32" y="1066.10" font-size="13.1" fill="#231f20" textLength="6.12" lengthAdjust="spacingAndGlyphs" >L</text>
<text x="225.72" y="1066.10" font-size="13.1" fill="#231f20" textLength="51.16" lengthAdjust="spacingAndGlyphs" >MASTER</text>
<text x="283.68" y="1066.10" font-size="13.1" fill="#231f20" textLength="9.22" lengthAdjust="spacingAndGlyphs" >R</text>
<rect x="237.00" y="1101.85" width="31.20" height="20.40" fill="#d1d3d4" stroke="#231f20" stroke-width="1.2" />
<circle cx="284.20" cy="1105.05" r="4.75" fill="#f0b637" stroke="#231f20" stroke-width="1.05"/>
<text x="277.40" y="1121.00" font-size="9.5" fill="#ffffff" textLength="13.82" lengthAdjust="spacingAndGlyphs" stroke="#ffffff" stroke-width="0.2" >PFL</text>
<rect x="212.00" y="1163" width="15.00" height="1" fill="#ffffff"/>
<rect x="238.00" y="1163" width="28.00" height="1" fill="#ffffff"/>
<rect x="277.00" y="1163" width="15.00" height="1" fill="#ffffff"/>
<rect x="212.00" y="1200" width="15.00" height="1" fill="#ffffff"/>
<rect x="238.00" y="1200" width="28.00" height="1" fill="#ffffff"/>
<rect x="277.00" y="1200" width="15.00" height="1" fill="#ffffff"/>
<rect x="212.00" y="1206" width="15.00" height="1" fill="#ffffff"/>
<rect x="238.00" y="1206" width="28.00" height="1" fill="#ffffff"/>
<rect x="277.00" y="1206" width="15.00" height="1" fill="#ffffff"/>
<rect x="212.00" y="1209" width="15.00" height="1" fill="#ffffff"/>
<rect x="238.00" y="1209" width="28.00" height="1" fill="#ffffff"/>
<rect x="277.00" y="1209" width="15.00" height="1" fill="#ffffff"/>
<rect x="212.00" y="1214" width="15.00" height="1" fill="#ffffff"/>
<rect x="238.00" y="1214" width="28.00" height="1" fill="#ffffff"/>
<rect x="277.00" y="1214" width="15.00" height="1" fill="#ffffff"/>
<rect x="212.00" y="1217" width="15.00" height="1" fill="#ffffff"/>
<rect x="238.00" y="1217" width="28.00" height="1" fill="#ffffff"/>
<rect x="277.00" y="1217" width="15.00" height="1" fill="#ffffff"/>
<rect x="212.00" y="1221" width="15.00" height="2" fill="#ffffff"/>
<rect x="238.00" y="1221" width="28.00" height="2" fill="#ffffff"/>
<rect x="277.00" y="1221" width="15.00" height="2" fill="#ffffff"/>
<rect x="212.00" y="1225" width="15.00" height="1" fill="#ffffff"/>
<rect x="238.00" y="1225" width="28.00" height="1" fill="#ffffff"/>
<rect x="277.00" y="1225" width="15.00" height="1" fill="#ffffff"/>
<rect x="212.00" y="1229" width="15.00" height="1" fill="#ffffff"/>
<rect x="238.00" y="1229" width="28.00" height="1" fill="#ffffff"/>
<rect x="277.00" y="1229" width="15.00" height="1" fill="#ffffff"/>
<rect x="212.00" y="1235" width="15.00" height="1" fill="#ffffff"/>
<rect x="238.00" y="1235" width="28.00" height="1" fill="#ffffff"/>
<rect x="277.00" y="1235" width="15.00" height="1" fill="#ffffff"/>
<rect x="212.00" y="1244" width="15.00" height="1" fill="#ffffff"/>
<rect x="238.00" y="1244" width="28.00" height="1" fill="#ffffff"/>
<rect x="277.00" y="1244" width="15.00" height="1" fill="#ffffff"/>
<rect x="212.00" y="1254" width="15.00" height="1" fill="#ffffff"/>
<rect x="238.00" y="1254" width="28.00" height="1" fill="#ffffff"/>
<rect x="277.00" y="1254" width="15.00" height="1" fill="#ffffff"/>
<rect x="212.00" y="1285" width="15.00" height="1" fill="#ffffff"/>
<rect x="238.00" y="1285" width="28.00" height="1" fill="#ffffff"/>
<rect x="277.00" y="1285" width="15.00" height="1" fill="#ffffff"/>
<rect x="212.00" y="1300" width="15.00" height="1" fill="#ffffff"/>
<rect x="238.00" y="1300" width="28.00" height="1" fill="#ffffff"/>
<rect x="277.00" y="1300" width="15.00" height="1" fill="#ffffff"/>
<rect x="212.00" y="1312" width="15.00" height="1" fill="#ffffff"/>
<rect x="238.00" y="1312" width="28.00" height="1" fill="#ffffff"/>
<rect x="277.00" y="1312" width="15.00" height="1" fill="#ffffff"/>
<rect x="212.00" y="1335" width="3.30" height="1" fill="#ffffff"/>
<rect x="250.70" y="1335" width="2.70" height="1" fill="#ffffff"/>
<rect x="289.60" y="1335" width="2.40" height="1" fill="#ffffff"/>
<rect x="212.00" y="1349" width="3.30" height="1" fill="#ffffff"/>
<rect x="250.70" y="1349" width="2.70" height="1" fill="#ffffff"/>
<rect x="289.60" y="1349" width="2.40" height="1" fill="#ffffff"/>
<rect x="212.00" y="1356" width="3.30" height="1" fill="#ffffff"/>
<rect x="250.70" y="1356" width="2.70" height="1" fill="#ffffff"/>
<rect x="289.60" y="1356" width="2.40" height="1" fill="#ffffff"/>
<rect x="228.50" y="1150.50" width="8.00" height="169.00" fill="#58595b" stroke="#231f20" stroke-width="1.0" />
<rect x="267.50" y="1150.50" width="8.00" height="169.00" fill="#58595b" stroke="#231f20" stroke-width="1.0" />
<rect x="215.05" y="1318.20" width="35.90" height="77.50" fill="#231f20"/>
<rect x="215.95" y="1319.10" width="34.10" height="11.01" fill="#ed1c24"/>
<rect x="215.05" y="1330.06" width="35.90" height="4.78" fill="#ab1117"/>
<rect x="215.05" y="1334.79" width="35.90" height="5.71" fill="#bd141b"/>
<rect x="215.05" y="1340.44" width="35.90" height="1.60" fill="#a51016"/>
<rect x="215.05" y="1341.99" width="35.90" height="4.16" fill="#cf1a21"/>
<rect x="215.05" y="1346.10" width="35.90" height="1.75" fill="#bd141b"/>
<rect x="215.05" y="1347.81" width="35.90" height="7.18" fill="#e61c24"/>
<rect x="215.05" y="1354.93" width="35.90" height="3.77" fill="#ffffff"/>
<rect x="215.05" y="1358.65" width="35.90" height="6.33" fill="#ed1c24"/>
<rect x="215.05" y="1364.93" width="35.90" height="2.92" fill="#c4161d"/>
<rect x="215.05" y="1367.80" width="35.90" height="4.31" fill="#ed1c24"/>
<rect x="215.05" y="1372.06" width="35.90" height="1.83" fill="#c8171e"/>
<rect x="215.05" y="1373.85" width="35.90" height="4.08" fill="#ed1c24"/>
<rect x="215.05" y="1377.88" width="35.90" height="3.07" fill="#c4161d"/>
<rect x="215.05" y="1380.90" width="35.90" height="4.39" fill="#ed1c24"/>
<rect x="215.95" y="1385.24" width="34.10" height="9.61" fill="url(#gred)"/>
<rect x="253.15" y="1318.20" width="36.70" height="77.50" fill="#231f20"/>
<rect x="254.05" y="1319.10" width="34.90" height="11.01" fill="#ed1c24"/>
<rect x="253.15" y="1330.06" width="36.70" height="4.78" fill="#ab1117"/>
<rect x="253.15" y="1334.79" width="36.70" height="5.71" fill="#bd141b"/>
<rect x="253.15" y="1340.44" width="36.70" height="1.60" fill="#a51016"/>
<rect x="253.15" y="1341.99" width="36.70" height="4.16" fill="#cf1a21"/>
<rect x="253.15" y="1346.10" width="36.70" height="1.75" fill="#bd141b"/>
<rect x="253.15" y="1347.81" width="36.70" height="7.18" fill="#e61c24"/>
<rect x="253.15" y="1354.93" width="36.70" height="3.77" fill="#ffffff"/>
<rect x="253.15" y="1358.65" width="36.70" height="6.33" fill="#ed1c24"/>
<rect x="253.15" y="1364.93" width="36.70" height="2.92" fill="#c4161d"/>
<rect x="253.15" y="1367.80" width="36.70" height="4.31" fill="#ed1c24"/>
<rect x="253.15" y="1372.06" width="36.70" height="1.83" fill="#c8171e"/>
<rect x="253.15" y="1373.85" width="36.70" height="4.08" fill="#ed1c24"/>
<rect x="253.15" y="1377.88" width="36.70" height="3.07" fill="#c4161d"/>
<rect x="253.15" y="1380.90" width="36.70" height="4.39" fill="#ed1c24"/>
<rect x="254.05" y="1385.24" width="34.90" height="9.61" fill="url(#gred)"/>
<text x="200.08" y="1166.85" font-size="8.6" fill="#ffffff" textLength="9.95" lengthAdjust="spacingAndGlyphs" >10</text>
<text x="293.68" y="1166.85" font-size="8.6" fill="#ffffff" textLength="9.95" lengthAdjust="spacingAndGlyphs" >10</text>
<text x="202.69" y="1203.85" font-size="8.6" fill="#ffffff" textLength="5.03" lengthAdjust="spacingAndGlyphs" >5</text>
<text x="296.29" y="1203.85" font-size="8.6" fill="#ffffff" textLength="5.03" lengthAdjust="spacingAndGlyphs" >5</text>
<text x="202.69" y="1225.15" font-size="8.6" fill="#ffffff" textLength="5.03" lengthAdjust="spacingAndGlyphs" >0</text>
<text x="296.29" y="1225.15" font-size="8.6" fill="#ffffff" textLength="5.03" lengthAdjust="spacingAndGlyphs" >0</text>
<text x="202.69" y="1257.85" font-size="8.6" fill="#ffffff" textLength="5.03" lengthAdjust="spacingAndGlyphs" >5</text>
<text x="296.29" y="1257.85" font-size="8.6" fill="#ffffff" textLength="5.03" lengthAdjust="spacingAndGlyphs" >5</text>
<text x="200.08" y="1288.85" font-size="8.6" fill="#ffffff" textLength="9.95" lengthAdjust="spacingAndGlyphs" >10</text>
<text x="293.68" y="1288.85" font-size="8.6" fill="#ffffff" textLength="9.95" lengthAdjust="spacingAndGlyphs" >10</text>
<text x="200.08" y="1303.85" font-size="8.6" fill="#ffffff" textLength="9.95" lengthAdjust="spacingAndGlyphs" >15</text>
<text x="293.68" y="1303.85" font-size="8.6" fill="#ffffff" textLength="9.95" lengthAdjust="spacingAndGlyphs" >15</text>
<text x="200.31" y="1315.85" font-size="8.6" fill="#ffffff" textLength="9.71" lengthAdjust="spacingAndGlyphs" >20</text>
<text x="293.91" y="1315.85" font-size="8.6" fill="#ffffff" textLength="9.71" lengthAdjust="spacingAndGlyphs" >20</text>
<text x="200.40" y="1338.85" font-size="8.6" fill="#ffffff" textLength="9.61" lengthAdjust="spacingAndGlyphs" >30</text>
<text x="294.00" y="1338.85" font-size="8.6" fill="#ffffff" textLength="9.61" lengthAdjust="spacingAndGlyphs" >30</text>
<text x="200.40" y="1352.85" font-size="8.6" fill="#ffffff" textLength="9.61" lengthAdjust="spacingAndGlyphs" >50</text>
<text x="294.00" y="1352.85" font-size="8.6" fill="#ffffff" textLength="9.61" lengthAdjust="spacingAndGlyphs" >50</text>
<text x="200.17" y="1359.50" font-size="8.0" fill="#ffffff" textLength="10.04" lengthAdjust="spacingAndGlyphs" >∞</text>
<text x="293.77" y="1359.50" font-size="8.0" fill="#ffffff" textLength="10.04" lengthAdjust="spacingAndGlyphs" >∞</text>
<rect x="529.60" y="657.40" width="411.80" height="294.20" fill="#ffffff" />
<g shape-rendering="crispEdges" fill="#231f20">
<rect x="529" y="657" width="413" height="1"/>
<rect x="529" y="694" width="413" height="1"/>
<rect x="529" y="731" width="413" height="1"/>
<rect x="529" y="768" width="413" height="1"/>
<rect x="529" y="805" width="413" height="1"/>
<rect x="529" y="841" width="413" height="1"/>
<rect x="529" y="878" width="413" height="1"/>
<rect x="529" y="915" width="413" height="1"/>
<rect x="529" y="951" width="413" height="1"/>
<rect x="529" y="657" width="1" height="295"/>
<rect x="553" y="657" width="1" height="295"/>
<rect x="571" y="657" width="1" height="295"/>
<rect x="584" y="657" width="1" height="295"/>
<rect x="595" y="657" width="1" height="295"/>
<rect x="604" y="657" width="1" height="295"/>
<rect x="612" y="657" width="1" height="295"/>
<rect x="619" y="657" width="1" height="295"/>
<rect x="625" y="657" width="1" height="295"/>
<rect x="667" y="657" width="1" height="295"/>
<rect x="691" y="657" width="1" height="295"/>
<rect x="708" y="657" width="1" height="295"/>
<rect x="721" y="657" width="1" height="295"/>
<rect x="732" y="657" width="1" height="295"/>
<rect x="741" y="657" width="1" height="295"/>
<rect x="749" y="657" width="1" height="295"/>
<rect x="756" y="657" width="1" height="295"/>
<rect x="762" y="657" width="1" height="295"/>
<rect x="804" y="657" width="1" height="295"/>
<rect x="828" y="657" width="1" height="295"/>
<rect x="846" y="657" width="1" height="295"/>
<rect x="859" y="657" width="1" height="295"/>
<rect x="870" y="657" width="1" height="295"/>
<rect x="879" y="657" width="1" height="295"/>
<rect x="887" y="657" width="1" height="295"/>
<rect x="894" y="657" width="1" height="295"/>
<rect x="900" y="657" width="1" height="295"/>
<rect x="941" y="657" width="1" height="295"/>
<rect x="530" y="661" width="3" height="1"/>
<rect x="530" y="664" width="3" height="1"/>
<rect x="530" y="668" width="3" height="1"/>
<rect x="530" y="672" width="3" height="1"/>
<rect x="530" y="675" width="3" height="1"/>
<rect x="530" y="679" width="3" height="1"/>
<rect x="530" y="683" width="3" height="1"/>
<rect x="530" y="687" width="3" height="1"/>
<rect x="530" y="690" width="3" height="1"/>
<rect x="530" y="698" width="3" height="1"/>
<rect x="530" y="701" width="3" height="1"/>
<rect x="530" y="705" width="3" height="1"/>
<rect x="530" y="709" width="3" height="1"/>
<rect x="530" y="712" width="3" height="1"/>
<rect x="530" y="716" width="3" height="1"/>
<rect x="530" y="720" width="3" height="1"/>
<rect x="530" y="724" width="3" height="1"/>
<rect x="530" y="727" width="3" height="1"/>
<rect x="530" y="735" width="3" height="1"/>
<rect x="530" y="738" width="3" height="1"/>
<rect x="530" y="742" width="3" height="1"/>
<rect x="530" y="746" width="3" height="1"/>
<rect x="530" y="749" width="3" height="1"/>
<rect x="530" y="753" width="3" height="1"/>
<rect x="530" y="757" width="3" height="1"/>
<rect x="530" y="761" width="3" height="1"/>
<rect x="530" y="764" width="3" height="1"/>
<rect x="530" y="772" width="3" height="1"/>
<rect x="530" y="775" width="3" height="1"/>
<rect x="530" y="779" width="3" height="1"/>
<rect x="530" y="783" width="3" height="1"/>
<rect x="530" y="786" width="3" height="1"/>
<rect x="530" y="790" width="3" height="1"/>
<rect x="530" y="794" width="3" height="1"/>
<rect x="530" y="798" width="3" height="1"/>
<rect x="530" y="801" width="3" height="1"/>
<rect x="530" y="809" width="3" height="1"/>
<rect x="530" y="812" width="3" height="1"/>
<rect x="530" y="816" width="3" height="1"/>
<rect x="530" y="820" width="3" height="1"/>
<rect x="530" y="823" width="3" height="1"/>
<rect x="530" y="827" width="3" height="1"/>
<rect x="530" y="831" width="3" height="1"/>
<rect x="530" y="835" width="3" height="1"/>
<rect x="530" y="838" width="3" height="1"/>
<rect x="530" y="845" width="3" height="1"/>
<rect x="530" y="848" width="3" height="1"/>
<rect x="530" y="852" width="3" height="1"/>
<rect x="530" y="856" width="3" height="1"/>
<rect x="530" y="859" width="3" height="1"/>
<rect x="530" y="863" width="3" height="1"/>
<rect x="530" y="867" width="3" height="1"/>
<rect x="530" y="871" width="3" height="1"/>
<rect x="530" y="874" width="3" height="1"/>
<rect x="530" y="882" width="3" height="1"/>
<rect x="530" y="885" width="3" height="1"/>
<rect x="530" y="889" width="3" height="1"/>
<rect x="530" y="893" width="3" height="1"/>
<rect x="530" y="896" width="3" height="1"/>
<rect x="530" y="900" width="3" height="1"/>
<rect x="530" y="904" width="3" height="1"/>
<rect x="530" y="908" width="3" height="1"/>
<rect x="530" y="911" width="3" height="1"/>
<rect x="530" y="919" width="3" height="1"/>
<rect x="530" y="922" width="3" height="1"/>
<rect x="530" y="926" width="3" height="1"/>
<rect x="530" y="930" width="3" height="1"/>
<rect x="530" y="933" width="3" height="1"/>
<rect x="530" y="937" width="3" height="1"/>
<rect x="530" y="941" width="3" height="1"/>
<rect x="530" y="945" width="3" height="1"/>
<rect x="530" y="948" width="3" height="1"/>
</g>
<clipPath id="chclip"><rect x="529.6" y="657.4" width="411.79999999999995" height="294.20000000000005"/></clipPath>
<g clip-path="url(#chclip)">
<path d="M529.7,767.5 C537.5,763.1 545.3,759.7 553.1,754.2 C559.3,749.8 565.6,743.7 571.8,738.8 C576.1,735.4 580.5,731.3 584.8,729.0 C586.9,727.9 588.9,727.0 591.0,726.3 C593.1,725.6 595.2,724.8 597.3,724.9 C599.4,725.0 601.4,725.6 603.5,726.8 C605.4,728.0 607.4,729.7 609.3,731.9 C610.4,733.1 611.5,734.6 612.6,736.1 C615.0,739.5 617.5,744.2 619.9,748.1 C621.8,751.1 623.6,754.0 625.5,756.8 C629.0,762.1 632.5,767.7 636.0,772.2 C639.6,776.8 643.1,781.0 646.7,784.2 C650.7,787.8 654.7,790.1 658.7,792.3 C661.7,793.9 664.6,795.3 667.6,796.3 C671.7,797.7 675.9,798.2 680.0,798.9 C683.9,799.6 687.8,800.1 691.7,800.5 C701.1,801.6 710.6,801.7 720.0,802.2 C746.7,803.5 773.3,803.2 800.0,803.5 C847.1,804.0 894.1,803.8 941.2,804.0" fill="none" stroke="#231f20" stroke-width="2.35" stroke-linejoin="round" stroke-linecap="butt"/>
<path d="M529.7,792.7 C537.5,791.2 545.3,789.9 553.1,788.2 C559.3,786.8 565.6,785.6 571.8,783.6 C576.1,782.2 580.5,780.9 584.8,778.9 C588.5,777.2 592.2,775.2 595.9,772.9 C598.9,771.1 601.8,769.1 604.8,766.9 C607.4,765.0 610.0,763.1 612.6,760.8 C615.0,758.6 617.5,756.0 619.9,753.5 C621.8,751.6 623.6,749.5 625.5,747.5 C629.0,743.7 632.5,739.8 636.0,736.0 C638.0,733.8 640.0,731.3 642.0,729.4 C644.0,727.5 646.0,725.8 648.0,724.7 C649.2,724.1 650.3,723.6 651.5,723.3 C652.5,723.1 653.5,723.0 654.5,723.0 C655.5,723.0 656.5,723.1 657.5,723.4 C658.7,723.8 659.8,724.6 661.0,725.5 C662.8,726.9 664.5,729.3 666.3,731.5 C670.9,737.3 675.4,746.6 680.0,753.5 C683.9,759.4 687.8,765.3 691.7,770.2 C694.5,773.7 697.3,776.8 700.1,779.6 C703.0,782.4 705.8,784.8 708.7,786.9 C713.0,790.0 717.3,791.9 721.6,793.6 C725.3,795.1 728.9,796.1 732.6,797.0 C737.4,798.2 742.1,798.9 746.9,799.6 C757.9,801.3 769.0,801.5 780.0,802.3 C833.7,806.0 887.5,803.1 941.2,803.5" fill="none" stroke="#231f20" stroke-width="2.35" stroke-linejoin="round" stroke-linecap="butt"/>
<path d="M529.7,799.8 C543.7,799.3 557.8,799.2 571.8,798.3 C579.8,797.8 587.9,797.3 595.9,796.3 C601.5,795.6 607.0,794.6 612.6,793.6 C616.9,792.8 621.2,792.1 625.5,791.0 C630.3,789.8 635.2,788.4 640.0,786.5 C644.5,784.7 648.9,782.8 653.4,780.0 C655.6,778.6 657.8,777.2 660.0,775.5 C662.5,773.6 665.1,771.4 667.6,768.9 C671.7,764.8 675.9,759.1 680.0,754.2 C683.9,749.5 687.8,744.8 691.7,740.1 C694.5,736.7 697.3,732.5 700.1,730.1 C701.6,728.8 703.0,727.7 704.5,727.0 C705.7,726.4 707.0,726.1 708.2,726.1 C709.6,726.1 711.1,726.5 712.5,727.2 C714.2,728.0 715.8,729.3 717.5,730.8 C718.9,732.0 720.2,733.4 721.6,735.0 C725.3,739.3 728.9,747.3 732.6,752.8 C735.7,757.4 738.7,761.4 741.8,765.5 C744.5,769.1 747.2,773.1 749.9,776.2 C754.2,781.0 758.4,784.0 762.7,786.9 C766.8,789.7 770.9,791.8 775.0,793.6 C779.0,795.4 783.0,796.5 787.0,797.6 C791.3,798.8 795.7,799.6 800.0,800.3 C810.0,802.0 820.0,801.9 830.0,802.5 C867.1,804.7 904.1,803.2 941.2,803.5" fill="none" stroke="#231f20" stroke-width="2.35" stroke-linejoin="round" stroke-linecap="butt"/>
<path d="M529.7,802.5 C553.1,802.2 576.6,802.2 600.0,801.5 C613.3,801.1 626.7,800.9 640.0,800.0 C646.7,799.5 653.3,799.5 660.0,798.3 C662.5,797.8 665.1,797.2 667.6,796.6 C671.7,795.6 675.9,794.6 680.0,793.3 C683.9,792.0 687.8,790.8 691.7,788.9 C694.5,787.5 697.3,785.9 700.1,784.2 C703.0,782.4 705.8,780.6 708.7,778.3 C713.0,774.8 717.3,770.1 721.6,765.5 C725.3,761.5 728.9,757.5 732.6,752.8 C735.7,748.9 738.7,744.2 741.8,740.1 C744.5,736.5 747.2,732.9 749.9,729.8 C751.8,727.7 753.6,725.2 755.5,723.9 C757.3,722.7 759.0,722.2 760.8,722.1 C762.4,722.0 763.9,722.5 765.5,723.2 C766.9,723.8 768.2,724.9 769.6,726.0 C771.4,727.5 773.2,729.2 775.0,731.4 C777.7,734.7 780.3,740.2 783.0,744.1 C785.5,747.7 787.9,750.9 790.4,754.2 C793.6,758.5 796.8,763.2 800.0,766.9 C801.7,768.8 803.3,770.6 805.0,772.2 C809.2,776.4 813.5,779.3 817.7,782.2 C821.4,784.8 825.1,787.0 828.8,788.9 C834.7,791.9 840.7,793.3 846.6,794.9 C854.6,797.0 862.5,797.9 870.5,798.9 C880.3,800.2 890.2,800.7 900.0,801.2 C913.7,802.0 927.5,801.9 941.2,802.2" fill="none" stroke="#231f20" stroke-width="2.35" stroke-linejoin="round" stroke-linecap="butt"/>
<path d="M529.7,803.0 C579.8,802.7 629.9,804.5 680.0,802.0 C689.6,801.5 699.1,801.4 708.7,800.3 C716.7,799.4 724.6,798.3 732.6,796.3 C738.4,794.9 744.1,793.4 749.9,790.9 C754.2,789.1 758.4,787.2 762.7,784.2 C765.5,782.3 768.2,780.1 771.0,777.5 C774.1,774.6 777.2,771.2 780.3,767.5 C783.7,763.5 787.0,758.7 790.4,754.2 C793.6,750.0 796.8,745.1 800.0,741.4 C801.7,739.5 803.3,738.0 805.0,736.1 C807.0,733.9 809.0,730.7 811.0,728.9 C813.2,726.9 815.5,725.6 817.7,725.4 C819.6,725.2 821.6,725.8 823.5,726.9 C825.3,727.9 827.0,729.9 828.8,731.6 C834.7,737.2 840.7,745.0 846.6,751.5 C850.9,756.2 855.1,761.0 859.4,765.5 C863.1,769.4 866.8,774.0 870.5,776.9 C873.5,779.3 876.6,780.7 879.6,782.2 C882.3,783.5 884.9,784.5 887.6,785.6 C891.9,787.3 896.3,789.1 900.6,790.3 C906.6,792.0 912.7,792.3 918.7,793.6 C926.2,795.2 933.7,797.2 941.2,799.0" fill="none" stroke="#231f20" stroke-width="2.35" stroke-linejoin="round" stroke-linecap="butt"/>
<path d="M529.7,803.5 C603.1,803.2 676.6,809.0 750.0,802.5 C760.0,801.6 770.0,802.2 780.0,799.5 C784.0,798.4 788.0,797.1 792.0,795.5 C796.3,793.8 800.7,791.8 805.0,789.6 C809.2,787.4 813.5,785.2 817.7,782.2 C821.4,779.5 825.1,776.6 828.8,772.9 C834.7,766.9 840.7,758.3 846.6,750.1 C850.9,744.2 855.1,736.1 859.4,731.6 C861.1,729.8 862.8,728.0 864.5,727.0 C866.3,725.9 868.2,725.3 870.0,725.3 C871.7,725.3 873.3,725.9 875.0,726.8 C876.5,727.6 878.1,729.1 879.6,730.4 C882.3,732.7 884.9,736.0 887.6,738.8 C889.9,741.2 892.3,743.7 894.6,746.1 C896.6,748.1 898.6,750.2 900.6,752.1 C906.6,757.9 912.7,762.8 918.7,767.5 C926.2,773.3 933.7,777.8 941.2,782.9" fill="none" stroke="#231f20" stroke-width="2.35" stroke-linejoin="round" stroke-linecap="butt"/>
<path d="M529.7,804.0 C619.8,803.5 709.9,810.7 800.0,802.5 C809.6,801.6 819.2,801.1 828.8,799.6 C834.7,798.7 840.7,798.2 846.6,796.3 C850.9,794.9 855.1,793.7 859.4,790.9 C863.1,788.5 866.8,785.3 870.5,781.6 C873.5,778.6 876.6,775.4 879.6,771.5 C882.3,768.1 884.9,764.3 887.6,760.2 C889.9,756.6 892.3,752.4 894.6,748.8 C896.6,745.7 898.6,743.0 900.6,740.1 C902.6,737.2 904.6,733.6 906.6,731.3 C908.7,728.8 910.9,727.2 913.0,725.9 C915.7,724.3 918.3,723.5 921.0,723.6 C923.0,723.6 925.0,724.2 927.0,725.1 C928.7,725.9 930.3,727.2 932.0,728.4 C935.1,730.6 938.1,733.5 941.2,736.1" fill="none" stroke="#231f20" stroke-width="2.35" stroke-linejoin="round" stroke-linecap="butt"/>
<path d="M529.7,842.9 C537.5,847.3 545.3,850.7 553.1,856.2 C559.3,860.6 565.6,866.7 571.8,871.6 C576.1,875.0 580.5,879.1 584.8,881.4 C586.9,882.5 588.9,883.4 591.0,884.1 C593.1,884.8 595.2,885.6 597.3,885.5 C599.4,885.4 601.4,884.8 603.5,883.6 C605.4,882.4 607.4,880.7 609.3,878.5 C610.4,877.3 611.5,875.8 612.6,874.3 C615.0,870.9 617.5,866.2 619.9,862.3 C621.8,859.3 623.6,856.4 625.5,853.6 C629.0,848.3 632.5,842.7 636.0,838.2 C639.6,833.6 643.1,829.4 646.7,826.2 C650.7,822.6 654.7,820.3 658.7,818.1 C661.7,816.5 664.6,815.1 667.6,814.1 C671.7,812.7 675.9,812.2 680.0,811.5 C683.9,810.8 687.8,810.3 691.7,809.9 C701.1,808.8 710.6,808.7 720.0,808.2 C746.7,806.9 773.3,807.2 800.0,806.9 C847.1,806.4 894.1,806.6 941.2,806.4" fill="none" stroke="#231f20" stroke-width="2.35" stroke-linejoin="round" stroke-linecap="butt"/>
<path d="M529.7,817.7 C537.5,819.2 545.3,820.5 553.1,822.2 C559.3,823.6 565.6,824.8 571.8,826.8 C576.1,828.2 580.5,829.5 584.8,831.5 C588.5,833.2 592.2,835.2 595.9,837.5 C598.9,839.3 601.8,841.3 604.8,843.5 C607.4,845.4 610.0,847.3 612.6,849.6 C615.0,851.8 617.5,854.4 619.9,856.9 C621.8,858.8 623.6,860.9 625.5,862.9 C629.0,866.7 632.5,870.6 636.0,874.4 C638.0,876.6 640.0,879.1 642.0,881.0 C644.0,882.9 646.0,884.6 648.0,885.7 C649.2,886.3 650.3,886.8 651.5,887.1 C652.5,887.3 653.5,887.4 654.5,887.4 C655.5,887.4 656.5,887.3 657.5,887.0 C658.7,886.6 659.8,885.8 661.0,884.9 C662.8,883.5 664.5,881.1 666.3,878.9 C670.9,873.1 675.4,863.8 680.0,856.9 C683.9,851.0 687.8,845.1 691.7,840.2 C694.5,836.7 697.3,833.6 700.1,830.8 C703.0,828.0 705.8,825.6 708.7,823.5 C713.0,820.4 717.3,818.5 721.6,816.8 C725.3,815.3 728.9,814.3 732.6,813.4 C737.4,812.2 742.1,811.5 746.9,810.8 C757.9,809.1 769.0,808.9 780.0,808.1 C833.7,804.4 887.5,807.3 941.2,806.9" fill="none" stroke="#231f20" stroke-width="2.35" stroke-linejoin="round" stroke-linecap="butt"/>
<path d="M529.7,810.6 C543.7,811.1 557.8,811.2 571.8,812.1 C579.8,812.6 587.9,813.1 595.9,814.1 C601.5,814.8 607.0,815.8 612.6,816.8 C616.9,817.6 621.2,818.3 625.5,819.4 C630.3,820.6 635.2,822.0 640.0,823.9 C644.5,825.7 648.9,827.6 653.4,830.4 C655.6,831.8 657.8,833.2 660.0,834.9 C662.5,836.8 665.1,839.0 667.6,841.5 C671.7,845.6 675.9,851.3 680.0,856.2 C683.9,860.9 687.8,865.6 691.7,870.3 C694.5,873.7 697.3,877.9 700.1,880.3 C701.6,881.6 703.0,882.7 704.5,883.4 C705.7,884.0 707.0,884.3 708.2,884.3 C709.6,884.3 711.1,883.9 712.5,883.2 C714.2,882.4 715.8,881.1 717.5,879.6 C718.9,878.4 720.2,877.0 721.6,875.4 C725.3,871.1 728.9,863.1 732.6,857.6 C735.7,853.0 738.7,849.0 741.8,844.9 C744.5,841.3 747.2,837.3 749.9,834.2 C754.2,829.4 758.4,826.4 762.7,823.5 C766.8,820.7 770.9,818.6 775.0,816.8 C779.0,815.0 783.0,813.9 787.0,812.8 C791.3,811.6 795.7,810.8 800.0,810.1 C810.0,808.4 820.0,808.5 830.0,807.9 C867.1,805.7 904.1,807.2 941.2,806.9" fill="none" stroke="#231f20" stroke-width="2.35" stroke-linejoin="round" stroke-linecap="butt"/>
<path d="M529.7,807.9 C553.1,808.2 576.6,808.2 600.0,808.9 C613.3,809.3 626.7,809.5 640.0,810.4 C646.7,810.9 653.3,810.9 660.0,812.1 C662.5,812.6 665.1,813.2 667.6,813.8 C671.7,814.8 675.9,815.8 680.0,817.1 C683.9,818.4 687.8,819.6 691.7,821.5 C694.5,822.9 697.3,824.5 700.1,826.2 C703.0,828.0 705.8,829.8 708.7,832.1 C713.0,835.6 717.3,840.3 721.6,844.9 C725.3,848.9 728.9,852.9 732.6,857.6 C735.7,861.5 738.7,866.2 741.8,870.3 C744.5,873.9 747.2,877.5 749.9,880.6 C751.8,882.7 753.6,885.2 755.5,886.5 C757.3,887.7 759.0,888.2 760.8,888.3 C762.4,888.4 763.9,887.9 765.5,887.2 C766.9,886.6 768.2,885.5 769.6,884.4 C771.4,882.9 773.2,881.2 775.0,879.0 C777.7,875.7 780.3,870.2 783.0,866.3 C785.5,862.7 787.9,859.5 790.4,856.2 C793.6,851.9 796.8,847.2 800.0,843.5 C801.7,841.6 803.3,839.8 805.0,838.2 C809.2,834.0 813.5,831.1 817.7,828.2 C821.4,825.6 825.1,823.4 828.8,821.5 C834.7,818.5 840.7,817.1 846.6,815.5 C854.6,813.4 862.5,812.5 870.5,811.5 C880.3,810.2 890.2,809.7 900.0,809.2 C913.7,808.4 927.5,808.5 941.2,808.2" fill="none" stroke="#231f20" stroke-width="2.35" stroke-linejoin="round" stroke-linecap="butt"/>
<path d="M529.7,807.4 C579.8,807.7 629.9,805.9 680.0,808.4 C689.6,808.9 699.1,809.1 708.7,810.1 C716.7,810.9 724.6,811.7 732.6,813.4 C738.4,814.6 744.1,815.7 749.9,818.1 C754.2,819.9 758.4,821.9 762.7,824.8 C765.5,826.7 768.2,828.7 771.0,831.4 C774.1,834.4 777.2,838.3 780.3,842.1 C783.7,846.3 787.0,851.0 790.4,855.5 C793.6,859.7 796.8,864.2 800.0,868.2 C801.7,870.3 803.3,872.2 805.0,874.2 C807.3,876.9 809.7,880.4 812.0,882.2 C814.6,884.2 817.1,885.3 819.7,885.2 C821.3,885.1 822.9,884.6 824.5,883.6 C825.9,882.7 827.4,881.0 828.8,879.6 C834.7,873.7 840.7,864.1 846.6,856.9 C850.9,851.8 855.1,846.3 859.4,842.1 C863.1,838.5 866.8,835.4 870.5,832.8 C873.5,830.7 876.6,828.9 879.6,827.4 C882.3,826.1 884.9,825.1 887.6,824.1 C891.9,822.5 896.3,821.3 900.6,820.1 C906.6,818.5 912.7,817.1 918.7,816.1 C926.2,814.9 933.7,814.8 941.2,814.1" fill="none" stroke="#231f20" stroke-width="2.35" stroke-linejoin="round" stroke-linecap="butt"/>
<path d="M529.7,807.0 C603.1,807.3 676.6,801.7 750.0,808.0 C760.0,808.9 770.0,808.8 780.0,810.9 C784.0,811.7 788.0,812.8 792.0,813.9 C796.3,815.1 800.7,815.8 805.0,818.1 C809.2,820.3 813.5,823.8 817.7,827.4 C821.4,830.6 825.1,834.2 828.8,838.1 C834.7,844.4 840.7,851.5 846.6,859.5 C850.9,865.3 855.1,873.4 859.4,878.2 C861.3,880.3 863.1,882.4 865.0,883.6 C866.8,884.7 868.7,885.3 870.5,885.2 C872.2,885.1 873.8,884.5 875.5,883.4 C876.9,882.5 878.2,880.9 879.6,879.6 C882.3,877.1 884.9,874.5 887.6,871.6 C889.9,869.1 892.3,866.0 894.6,863.5 C896.6,861.4 898.6,859.4 900.6,857.5 C906.6,851.7 912.7,846.8 918.7,842.8 C923.5,839.6 928.2,836.9 933.0,835.0 C935.7,833.9 938.5,833.3 941.2,832.5" fill="none" stroke="#231f20" stroke-width="2.35" stroke-linejoin="round" stroke-linecap="butt"/>
<path d="M529.7,806.5 C619.8,807.0 709.9,798.3 800.0,808.0 C809.6,809.0 819.2,809.4 828.8,811.4 C834.7,812.6 840.7,813.5 846.6,816.1 C850.9,818.0 855.1,820.3 859.4,823.4 C863.1,826.1 866.8,829.2 870.5,832.8 C873.5,835.8 876.6,839.2 879.6,842.8 C882.3,845.9 884.9,849.2 887.6,852.8 C889.9,856.0 892.3,859.3 894.6,862.9 C896.6,866.0 898.6,869.9 900.6,872.9 C902.6,875.9 904.6,878.6 906.6,880.9 C908.9,883.5 911.2,885.9 913.5,887.4 C916.1,889.1 918.7,889.8 921.3,890.0 C923.4,890.2 925.4,889.9 927.5,889.2 C929.0,888.7 930.5,887.7 932.0,886.9 C935.1,885.3 938.1,883.8 941.2,882.3" fill="none" stroke="#231f20" stroke-width="2.35" stroke-linejoin="round" stroke-linecap="butt"/>
<path d="M529.6,802.9 L700,803.0 L790,801.6 L860,800.2 L905,800.4 L930,801.6 L941.4,803.8 L941.4,811.4 L930,810.4 L905,810.2 L860,810.0 L790,808.8 L700,807.9 L529.6,808.0 Z" fill="#231f20"/>
<path d="M766,805.2 L860,805.2 L910,805.4 L936,806.6" fill="none" stroke="#ffffff" stroke-width="0.8"/>
</g>
<g stroke="#2b3990" stroke-width="0.45">
<text x="918.62" y="672.30" font-size="19.0" fill="#2b3990" textLength="21.51" lengthAdjust="spacingAndGlyphs" font-weight="bold" font-style="italic" >Ap</text>
</g>
</svg>
</body></html>
